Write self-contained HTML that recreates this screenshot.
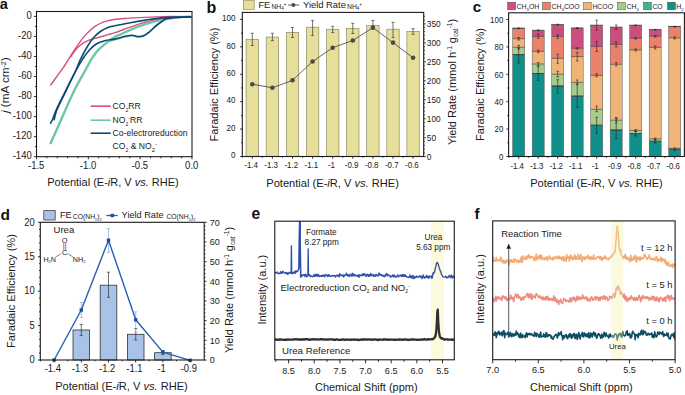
<!DOCTYPE html>
<html><head><meta charset="utf-8"><style>
html,body{margin:0;padding:0;background:#fff;}
svg{display:block;}
text{font-family:"Liberation Sans",sans-serif;}
</style></head><body>
<svg width="685" height="395" viewBox="0 0 685 395">
<defs>
<clipPath id="clipA"><rect x="36.5" y="11.5" width="155.5" height="145.2"/></clipPath>
<clipPath id="clipE"><rect x="274.8" y="221.2" width="179.5" height="138.6"/></clipPath>
<clipPath id="clipF"><rect x="492.7" y="220.9" width="182.4" height="138.8"/></clipPath>
</defs>
<rect width="685" height="395" fill="#fff"/>
<text x="-0.25" y="9" font-size="14.6" text-anchor="start" font-weight="bold" fill="#111" style="">a</text>
<rect x="36.5" y="11.5" width="155.5" height="145.2" fill="none" stroke="#1a1a1a" stroke-width="1.1"/>
<line x1="33.9" y1="16.4" x2="36.5" y2="16.4" stroke="#1a1a1a" stroke-width="0.9" />
<text transform="translate(31.7 18.9) scale(0.94 1)" x="0" y="0" font-size="10.1" text-anchor="end" fill="#1a1a1a">0</text>
<line x1="34.9" y1="26.42" x2="36.5" y2="26.42" stroke="#1a1a1a" stroke-width="0.9" />
<line x1="33.9" y1="36.44" x2="36.5" y2="36.44" stroke="#1a1a1a" stroke-width="0.9" />
<text transform="translate(31.7 38.94) scale(0.94 1)" x="0" y="0" font-size="10.1" text-anchor="end" fill="#1a1a1a">-20</text>
<line x1="34.9" y1="46.46" x2="36.5" y2="46.46" stroke="#1a1a1a" stroke-width="0.9" />
<line x1="33.9" y1="56.49" x2="36.5" y2="56.49" stroke="#1a1a1a" stroke-width="0.9" />
<text transform="translate(31.7 58.99) scale(0.94 1)" x="0" y="0" font-size="10.1" text-anchor="end" fill="#1a1a1a">-40</text>
<line x1="34.9" y1="66.51" x2="36.5" y2="66.51" stroke="#1a1a1a" stroke-width="0.9" />
<line x1="33.9" y1="76.53" x2="36.5" y2="76.53" stroke="#1a1a1a" stroke-width="0.9" />
<text transform="translate(31.7 79.03) scale(0.94 1)" x="0" y="0" font-size="10.1" text-anchor="end" fill="#1a1a1a">-60</text>
<line x1="34.9" y1="86.55" x2="36.5" y2="86.55" stroke="#1a1a1a" stroke-width="0.9" />
<line x1="33.9" y1="96.57" x2="36.5" y2="96.57" stroke="#1a1a1a" stroke-width="0.9" />
<text transform="translate(31.7 99.07) scale(0.94 1)" x="0" y="0" font-size="10.1" text-anchor="end" fill="#1a1a1a">-80</text>
<line x1="34.9" y1="106.59" x2="36.5" y2="106.59" stroke="#1a1a1a" stroke-width="0.9" />
<line x1="33.9" y1="116.61" x2="36.5" y2="116.61" stroke="#1a1a1a" stroke-width="0.9" />
<text transform="translate(31.7 119.11) scale(0.94 1)" x="0" y="0" font-size="10.1" text-anchor="end" fill="#1a1a1a">-100</text>
<line x1="34.9" y1="126.64" x2="36.5" y2="126.64" stroke="#1a1a1a" stroke-width="0.9" />
<line x1="33.9" y1="136.66" x2="36.5" y2="136.66" stroke="#1a1a1a" stroke-width="0.9" />
<text transform="translate(31.7 139.16) scale(0.94 1)" x="0" y="0" font-size="10.1" text-anchor="end" fill="#1a1a1a">-120</text>
<line x1="34.9" y1="146.68" x2="36.5" y2="146.68" stroke="#1a1a1a" stroke-width="0.9" />
<line x1="33.9" y1="156.7" x2="36.5" y2="156.7" stroke="#1a1a1a" stroke-width="0.9" />
<text transform="translate(31.7 159.2) scale(0.94 1)" x="0" y="0" font-size="10.1" text-anchor="end" fill="#1a1a1a">-140</text>
<line x1="36.5" y1="156.7" x2="36.5" y2="159.3" stroke="#1a1a1a" stroke-width="0.9" />
<text transform="translate(36.2 169.3) scale(0.94 1)" x="0" y="0" font-size="10.1" text-anchor="middle" fill="#1a1a1a">-1.5</text>
<line x1="46.87" y1="156.7" x2="46.87" y2="158.3" stroke="#1a1a1a" stroke-width="0.9" />
<line x1="57.23" y1="156.7" x2="57.23" y2="158.3" stroke="#1a1a1a" stroke-width="0.9" />
<line x1="67.6" y1="156.7" x2="67.6" y2="158.3" stroke="#1a1a1a" stroke-width="0.9" />
<line x1="77.97" y1="156.7" x2="77.97" y2="158.3" stroke="#1a1a1a" stroke-width="0.9" />
<line x1="88.33" y1="156.7" x2="88.33" y2="159.3" stroke="#1a1a1a" stroke-width="0.9" />
<text transform="translate(88.03 169.3) scale(0.94 1)" x="0" y="0" font-size="10.1" text-anchor="middle" fill="#1a1a1a">-1.0</text>
<line x1="98.7" y1="156.7" x2="98.7" y2="158.3" stroke="#1a1a1a" stroke-width="0.9" />
<line x1="109.07" y1="156.7" x2="109.07" y2="158.3" stroke="#1a1a1a" stroke-width="0.9" />
<line x1="119.43" y1="156.7" x2="119.43" y2="158.3" stroke="#1a1a1a" stroke-width="0.9" />
<line x1="129.8" y1="156.7" x2="129.8" y2="158.3" stroke="#1a1a1a" stroke-width="0.9" />
<line x1="140.17" y1="156.7" x2="140.17" y2="159.3" stroke="#1a1a1a" stroke-width="0.9" />
<text transform="translate(139.87 169.3) scale(0.94 1)" x="0" y="0" font-size="10.1" text-anchor="middle" fill="#1a1a1a">-0.5</text>
<line x1="150.53" y1="156.7" x2="150.53" y2="158.3" stroke="#1a1a1a" stroke-width="0.9" />
<line x1="160.9" y1="156.7" x2="160.9" y2="158.3" stroke="#1a1a1a" stroke-width="0.9" />
<line x1="171.27" y1="156.7" x2="171.27" y2="158.3" stroke="#1a1a1a" stroke-width="0.9" />
<line x1="181.63" y1="156.7" x2="181.63" y2="158.3" stroke="#1a1a1a" stroke-width="0.9" />
<line x1="192" y1="156.7" x2="192" y2="159.3" stroke="#1a1a1a" stroke-width="0.9" />
<text transform="translate(191.7 169.3) scale(0.94 1)" x="0" y="0" font-size="10.1" text-anchor="middle" fill="#1a1a1a">0.0</text>
<text x="113" y="186.1" font-size="11.0" text-anchor="middle" font-weight="normal" fill="#1a1a1a" style="">Potential (E-<tspan font-style="italic">i</tspan>R, V <tspan font-style="italic">vs.</tspan> RHE)</text>
<text x="9.4" y="85.2" font-size="11.7" text-anchor="middle" font-weight="normal" fill="#1a1a1a" transform="rotate(-90 9.4 85.2)" style=""><tspan font-style="italic">j</tspan> (mA cm<tspan dy="-3.8" font-size="7">-2</tspan><tspan dy="3.8">)</tspan></text>
<g clip-path="url(#clipA)">
<path d="M192,16.8 C189.88,16.85 183.95,16.65 179.3,17.1 C174.65,17.55 167.38,18.97 164.1,19.5 C160.82,20.03 162.72,19.52 159.6,20.3 C156.48,21.08 150.3,22.62 145.4,24.2 C140.5,25.78 134.43,28.05 130.2,29.8 C125.97,31.55 122.53,33.52 120,34.7 C117.47,35.88 117,35.75 115,36.9 C113,38.05 110.65,39.55 108,41.6 C105.35,43.65 101.27,47.15 99.1,49.2 C96.93,51.25 96.37,52.1 95,53.9 C93.63,55.7 92.48,57.32 90.9,60 C89.32,62.68 87.82,65.8 85.5,70 C83.18,74.2 79.25,80.98 77,85.2 C74.75,89.42 73.7,91.72 72,95.3 C70.3,98.88 68.6,102.68 66.8,106.7 C65,110.72 62.7,115.98 61.2,119.4 C59.7,122.82 59.57,123.23 57.8,127.2 C56.03,131.17 51.8,140.53 50.6,143.2" fill="none" stroke="#6dc6a4" stroke-width="2.4" stroke-linejoin="round" stroke-linecap="round" />
<path d="M166,18.9 C165.18,19.42 162.85,20.72 161.1,22 C159.35,23.28 157.45,24.9 155.5,26.6 C153.55,28.3 151.42,30.6 149.4,32.2 C147.38,33.8 145.25,35.38 143.4,36.2 C141.55,37.02 140.17,37.17 138.3,37.1 C136.43,37.03 134.4,35.85 132.2,35.8 C130,35.75 127.13,36.4 125.1,36.8 C123.07,37.2 122.02,37.63 120,38.2 C117.98,38.77 115,39.57 113,40.2 C111,40.83 108.83,41.7 108,42" fill="none" stroke="#6dc6a4" stroke-width="1.5" stroke-linejoin="round" stroke-linecap="round" />
<path d="M192,16.8 C187.5,16.77 173.67,16.47 165,16.6 C156.33,16.73 146.67,17.28 140,17.6 C133.33,17.92 129,18.23 125,18.5 C121,18.77 119.43,18.67 116,19.2 C112.57,19.73 107.9,20.5 104.4,21.7 C100.9,22.9 97.53,24.82 95,26.4 C92.47,27.98 91.15,29.37 89.2,31.2 C87.25,33.03 85.23,35.03 83.3,37.4 C81.37,39.77 79.4,42.8 77.6,45.4 C75.8,48 73.77,51.07 72.5,53 C71.23,54.93 71.25,55 70,57 C68.75,59 66.42,62.83 65,65 C63.58,67.17 63.17,67.67 61.5,70 C59.83,72.33 56.8,76.5 55,79 C53.2,81.5 51.42,84 50.7,85" fill="none" stroke="#d4507e" stroke-width="1.4" stroke-linejoin="round" stroke-linecap="round" />
<path d="M192,16.8 C189.17,16.83 180.23,16.7 175,17 C169.77,17.3 165.53,17.73 160.6,18.6 C155.67,19.47 150.47,20.77 145.4,22.2 C140.33,23.63 134.43,25.75 130.2,27.2 C125.97,28.65 122.53,30 120,30.9 C117.47,31.8 117,31.97 115,32.6 C113,33.23 111.28,33.73 108,34.7 C104.72,35.67 98.47,37.48 95.3,38.4 C92.13,39.32 91.53,39.07 89,40.2 C86.47,41.33 82.6,43.23 80.1,45.2 C77.6,47.17 75.6,50.03 74,52 C72.4,53.97 71.08,56.17 70.5,57" fill="none" stroke="#d4507e" stroke-width="1.4" stroke-linejoin="round" stroke-linecap="round" />
<path d="M192,16.8 C187.5,16.93 172.77,17.05 165,17.6 C157.23,18.15 151.2,19.25 145.4,20.1 C139.6,20.95 135.27,21.77 130.2,22.7 C125.13,23.63 118.7,24.92 115,25.7 C111.3,26.48 110.43,26.43 108,27.4 C105.57,28.37 102.93,29.65 100.4,31.5 C97.87,33.35 95.12,35.75 92.8,38.5 C90.48,41.25 88.62,44.42 86.5,48 C84.38,51.58 81.85,56.33 80.1,60 C78.35,63.67 77.83,66.02 76,70 C74.17,73.98 71.2,79.68 69.1,83.9 C67,88.12 65.3,91.5 63.4,95.3 C61.5,99.1 59.23,103.42 57.7,106.7 C56.17,109.98 55.05,112.88 54.2,115 C53.35,117.12 53.2,118.03 52.6,119.4 C52,120.77 50.93,122.57 50.6,123.2" fill="none" stroke="#0d4a72" stroke-width="1.6" stroke-linejoin="round" stroke-linecap="round" />
<path d="M192,16.8 C188.87,16.95 177.53,17.35 173.2,17.7 C168.87,18.05 168.02,18.18 166,18.9 C163.98,19.62 162.85,20.78 161.1,22 C159.35,23.22 157.45,24.57 155.5,26.2 C153.55,27.83 151.42,30.2 149.4,31.8 C147.38,33.4 145.25,35.02 143.4,35.8 C141.55,36.58 140.17,36.58 138.3,36.5 C136.43,36.42 134.4,35.33 132.2,35.3 C130,35.27 127.13,35.88 125.1,36.3 C123.07,36.72 122.02,37.28 120,37.8 C117.98,38.32 115.43,38.93 113,39.4 C110.57,39.87 108.13,39.87 105.4,40.6 C102.67,41.33 99.33,42.15 96.6,43.8 C93.87,45.45 91.43,47.8 89,50.5 C86.57,53.2 84.17,56.67 82,60 C79.83,63.33 78.08,66.58 76,70.5 C73.92,74.42 71.53,79.37 69.5,83.5 C67.47,87.63 65.68,91.38 63.8,95.3 C61.92,99.22 59.53,104.05 58.2,107 C56.87,109.95 56.47,110.9 55.8,113 C55.13,115.1 54.47,118.5 54.2,119.6" fill="none" stroke="#0d4a72" stroke-width="1.6" stroke-linejoin="round" stroke-linecap="round" />
</g>
<line x1="90.6" y1="106.2" x2="110.7" y2="106.2" stroke="#d4507e" stroke-width="1.6" />
<text x="112.6" y="109.4" font-size="8.6" text-anchor="start" font-weight="normal" fill="#1a1a1a" style="">CO<tspan dy="2.2" font-size="5">2</tspan><tspan dy="-2.2">RR</tspan></text>
<line x1="90.6" y1="120.2" x2="110.7" y2="120.2" stroke="#6dc6a4" stroke-width="1.6" />
<text x="112.6" y="123.4" font-size="8.6" text-anchor="start" font-weight="normal" fill="#1a1a1a" style="">NO<tspan dy="2.2" font-size="5">2</tspan><tspan dy="-5.5" font-size="5">-</tspan><tspan dy="3.3">RR</tspan></text>
<line x1="90.6" y1="133.2" x2="110.7" y2="133.2" stroke="#0d4a72" stroke-width="1.6" />
<text x="112.6" y="136.4" font-size="8.6" text-anchor="start" font-weight="normal" fill="#1a1a1a" style="">Co-electroreduction</text>
<text x="112.6" y="149.4" font-size="8.6" text-anchor="start" font-weight="normal" fill="#1a1a1a" style="">CO<tspan dy="2.2" font-size="5">2</tspan><tspan dy="-2.2"> &amp; NO</tspan><tspan dy="2.2" font-size="6">2</tspan><tspan dy="-5.5" font-size="6">-</tspan></text>
<text x="206.4" y="12.5" font-size="16" text-anchor="start" font-weight="bold" fill="#111" style="">b</text>
<rect x="246.1" y="39.3" width="12.4" height="117.2" fill="#e6df9b" stroke="#8f8b66" stroke-width="0.7"/>
<rect x="266.2" y="37.1" width="12.4" height="119.4" fill="#e6df9b" stroke="#8f8b66" stroke-width="0.7"/>
<rect x="286.3" y="32.4" width="12.4" height="124.1" fill="#e6df9b" stroke="#8f8b66" stroke-width="0.7"/>
<rect x="306.4" y="27.2" width="12.4" height="129.3" fill="#e6df9b" stroke="#8f8b66" stroke-width="0.7"/>
<rect x="326.5" y="29.3" width="12.4" height="127.2" fill="#e6df9b" stroke="#8f8b66" stroke-width="0.7"/>
<rect x="346.6" y="28.3" width="12.4" height="128.2" fill="#e6df9b" stroke="#8f8b66" stroke-width="0.7"/>
<rect x="366.7" y="25.4" width="12.4" height="131.1" fill="#e6df9b" stroke="#8f8b66" stroke-width="0.7"/>
<rect x="386.8" y="29.2" width="12.4" height="127.3" fill="#e6df9b" stroke="#8f8b66" stroke-width="0.7"/>
<rect x="406.9" y="31.6" width="12.4" height="124.9" fill="#e6df9b" stroke="#8f8b66" stroke-width="0.7"/>
<line x1="252.3" y1="33.3" x2="252.3" y2="45.5" stroke="#3a3a3a" stroke-width="0.7" />
<line x1="250.8" y1="33.3" x2="253.8" y2="33.3" stroke="#3a3a3a" stroke-width="0.7" />
<line x1="250.8" y1="45.5" x2="253.8" y2="45.5" stroke="#3a3a3a" stroke-width="0.7" />
<line x1="272.4" y1="33.3" x2="272.4" y2="40.6" stroke="#3a3a3a" stroke-width="0.7" />
<line x1="270.9" y1="33.3" x2="273.9" y2="33.3" stroke="#3a3a3a" stroke-width="0.7" />
<line x1="270.9" y1="40.6" x2="273.9" y2="40.6" stroke="#3a3a3a" stroke-width="0.7" />
<line x1="292.5" y1="27.5" x2="292.5" y2="37.5" stroke="#3a3a3a" stroke-width="0.7" />
<line x1="291" y1="27.5" x2="294" y2="27.5" stroke="#3a3a3a" stroke-width="0.7" />
<line x1="291" y1="37.5" x2="294" y2="37.5" stroke="#3a3a3a" stroke-width="0.7" />
<line x1="312.6" y1="20.4" x2="312.6" y2="35.4" stroke="#3a3a3a" stroke-width="0.7" />
<line x1="311.1" y1="20.4" x2="314.1" y2="20.4" stroke="#3a3a3a" stroke-width="0.7" />
<line x1="311.1" y1="35.4" x2="314.1" y2="35.4" stroke="#3a3a3a" stroke-width="0.7" />
<line x1="332.7" y1="26.3" x2="332.7" y2="32.5" stroke="#3a3a3a" stroke-width="0.7" />
<line x1="331.2" y1="26.3" x2="334.2" y2="26.3" stroke="#3a3a3a" stroke-width="0.7" />
<line x1="331.2" y1="32.5" x2="334.2" y2="32.5" stroke="#3a3a3a" stroke-width="0.7" />
<line x1="352.8" y1="23.3" x2="352.8" y2="33.5" stroke="#3a3a3a" stroke-width="0.7" />
<line x1="351.3" y1="23.3" x2="354.3" y2="23.3" stroke="#3a3a3a" stroke-width="0.7" />
<line x1="351.3" y1="33.5" x2="354.3" y2="33.5" stroke="#3a3a3a" stroke-width="0.7" />
<line x1="372.9" y1="20.4" x2="372.9" y2="29.2" stroke="#3a3a3a" stroke-width="0.7" />
<line x1="371.4" y1="20.4" x2="374.4" y2="20.4" stroke="#3a3a3a" stroke-width="0.7" />
<line x1="371.4" y1="29.2" x2="374.4" y2="29.2" stroke="#3a3a3a" stroke-width="0.7" />
<line x1="393" y1="22.3" x2="393" y2="37.6" stroke="#3a3a3a" stroke-width="0.7" />
<line x1="391.5" y1="22.3" x2="394.5" y2="22.3" stroke="#3a3a3a" stroke-width="0.7" />
<line x1="391.5" y1="37.6" x2="394.5" y2="37.6" stroke="#3a3a3a" stroke-width="0.7" />
<line x1="413.1" y1="28.6" x2="413.1" y2="34.3" stroke="#3a3a3a" stroke-width="0.7" />
<line x1="411.6" y1="28.6" x2="414.6" y2="28.6" stroke="#3a3a3a" stroke-width="0.7" />
<line x1="411.6" y1="34.3" x2="414.6" y2="34.3" stroke="#3a3a3a" stroke-width="0.7" />
<polyline points="252.3,84.2 272.4,87.8 292.5,80.3 312.6,61.5 332.7,47.7 352.8,40.5 372.9,27.6 393,42.6 413.1,57.8" fill="none" stroke="#505050" stroke-width="0.9" stroke-linejoin="round" stroke-linecap="round" />
<circle cx="252.3" cy="84.2" r="2.3" fill="#4a4a4a"/>
<circle cx="272.4" cy="87.8" r="2.3" fill="#4a4a4a"/>
<circle cx="292.5" cy="80.3" r="2.3" fill="#4a4a4a"/>
<circle cx="312.6" cy="61.5" r="2.3" fill="#4a4a4a"/>
<circle cx="332.7" cy="47.7" r="2.3" fill="#4a4a4a"/>
<circle cx="352.8" cy="40.5" r="2.3" fill="#4a4a4a"/>
<circle cx="372.9" cy="27.6" r="2.3" fill="#4a4a4a"/>
<circle cx="393" cy="42.6" r="2.3" fill="#4a4a4a"/>
<circle cx="413.1" cy="57.8" r="2.3" fill="#4a4a4a"/>
<rect x="242.3" y="12.4" width="181.39999999999998" height="144.1" fill="none" stroke="#1a1a1a" stroke-width="1.1"/>
<line x1="240.1" y1="156.5" x2="242.3" y2="156.5" stroke="#1a1a1a" stroke-width="0.9" />
<text transform="translate(235.4 158.2) scale(0.92 1)" x="0" y="0" font-size="8.8" text-anchor="end" fill="#1a1a1a">0</text>
<line x1="241" y1="142.79" x2="242.3" y2="142.79" stroke="#1a1a1a" stroke-width="0.9" />
<line x1="240.1" y1="129.08" x2="242.3" y2="129.08" stroke="#1a1a1a" stroke-width="0.9" />
<text transform="translate(235.4 130.78) scale(0.92 1)" x="0" y="0" font-size="8.8" text-anchor="end" fill="#1a1a1a">20</text>
<line x1="241" y1="115.37" x2="242.3" y2="115.37" stroke="#1a1a1a" stroke-width="0.9" />
<line x1="240.1" y1="101.66" x2="242.3" y2="101.66" stroke="#1a1a1a" stroke-width="0.9" />
<text transform="translate(235.4 103.36) scale(0.92 1)" x="0" y="0" font-size="8.8" text-anchor="end" fill="#1a1a1a">40</text>
<line x1="241" y1="87.95" x2="242.3" y2="87.95" stroke="#1a1a1a" stroke-width="0.9" />
<line x1="240.1" y1="74.24" x2="242.3" y2="74.24" stroke="#1a1a1a" stroke-width="0.9" />
<text transform="translate(235.4 75.94) scale(0.92 1)" x="0" y="0" font-size="8.8" text-anchor="end" fill="#1a1a1a">60</text>
<line x1="241" y1="60.53" x2="242.3" y2="60.53" stroke="#1a1a1a" stroke-width="0.9" />
<line x1="240.1" y1="46.82" x2="242.3" y2="46.82" stroke="#1a1a1a" stroke-width="0.9" />
<text transform="translate(235.4 48.52) scale(0.92 1)" x="0" y="0" font-size="8.8" text-anchor="end" fill="#1a1a1a">80</text>
<line x1="241" y1="33.11" x2="242.3" y2="33.11" stroke="#1a1a1a" stroke-width="0.9" />
<line x1="240.1" y1="19.4" x2="242.3" y2="19.4" stroke="#1a1a1a" stroke-width="0.9" />
<text transform="translate(235.4 21.1) scale(0.92 1)" x="0" y="0" font-size="8.8" text-anchor="end" fill="#1a1a1a">100</text>
<line x1="423.7" y1="156.7" x2="425.9" y2="156.7" stroke="#1a1a1a" stroke-width="0.8" />
<text transform="translate(426.8 159.7) scale(0.93 1)" x="0" y="0" font-size="9.0" text-anchor="start" fill="#1a1a1a">0</text>
<line x1="423.7" y1="152.91" x2="424.9" y2="152.91" stroke="#1a1a1a" stroke-width="0.8" />
<line x1="423.7" y1="149.11" x2="424.9" y2="149.11" stroke="#1a1a1a" stroke-width="0.8" />
<line x1="423.7" y1="145.32" x2="424.9" y2="145.32" stroke="#1a1a1a" stroke-width="0.8" />
<line x1="423.7" y1="141.52" x2="424.9" y2="141.52" stroke="#1a1a1a" stroke-width="0.8" />
<line x1="423.7" y1="137.73" x2="425.9" y2="137.73" stroke="#1a1a1a" stroke-width="0.8" />
<text transform="translate(426.8 140.73) scale(0.93 1)" x="0" y="0" font-size="9.0" text-anchor="start" fill="#1a1a1a">50</text>
<line x1="423.7" y1="133.93" x2="424.9" y2="133.93" stroke="#1a1a1a" stroke-width="0.8" />
<line x1="423.7" y1="130.14" x2="424.9" y2="130.14" stroke="#1a1a1a" stroke-width="0.8" />
<line x1="423.7" y1="126.35" x2="424.9" y2="126.35" stroke="#1a1a1a" stroke-width="0.8" />
<line x1="423.7" y1="122.55" x2="424.9" y2="122.55" stroke="#1a1a1a" stroke-width="0.8" />
<line x1="423.7" y1="118.76" x2="425.9" y2="118.76" stroke="#1a1a1a" stroke-width="0.8" />
<text transform="translate(426.8 121.76) scale(0.93 1)" x="0" y="0" font-size="9.0" text-anchor="start" fill="#1a1a1a">100</text>
<line x1="423.7" y1="114.96" x2="424.9" y2="114.96" stroke="#1a1a1a" stroke-width="0.8" />
<line x1="423.7" y1="111.17" x2="424.9" y2="111.17" stroke="#1a1a1a" stroke-width="0.8" />
<line x1="423.7" y1="107.37" x2="424.9" y2="107.37" stroke="#1a1a1a" stroke-width="0.8" />
<line x1="423.7" y1="103.58" x2="424.9" y2="103.58" stroke="#1a1a1a" stroke-width="0.8" />
<line x1="423.7" y1="99.79" x2="425.9" y2="99.79" stroke="#1a1a1a" stroke-width="0.8" />
<text transform="translate(426.8 102.79) scale(0.93 1)" x="0" y="0" font-size="9.0" text-anchor="start" fill="#1a1a1a">150</text>
<line x1="423.7" y1="95.99" x2="424.9" y2="95.99" stroke="#1a1a1a" stroke-width="0.8" />
<line x1="423.7" y1="92.2" x2="424.9" y2="92.2" stroke="#1a1a1a" stroke-width="0.8" />
<line x1="423.7" y1="88.4" x2="424.9" y2="88.4" stroke="#1a1a1a" stroke-width="0.8" />
<line x1="423.7" y1="84.61" x2="424.9" y2="84.61" stroke="#1a1a1a" stroke-width="0.8" />
<line x1="423.7" y1="80.81" x2="425.9" y2="80.81" stroke="#1a1a1a" stroke-width="0.8" />
<text transform="translate(426.8 83.81) scale(0.93 1)" x="0" y="0" font-size="9.0" text-anchor="start" fill="#1a1a1a">200</text>
<line x1="423.7" y1="77.02" x2="424.9" y2="77.02" stroke="#1a1a1a" stroke-width="0.8" />
<line x1="423.7" y1="73.23" x2="424.9" y2="73.23" stroke="#1a1a1a" stroke-width="0.8" />
<line x1="423.7" y1="69.43" x2="424.9" y2="69.43" stroke="#1a1a1a" stroke-width="0.8" />
<line x1="423.7" y1="65.64" x2="424.9" y2="65.64" stroke="#1a1a1a" stroke-width="0.8" />
<line x1="423.7" y1="61.84" x2="425.9" y2="61.84" stroke="#1a1a1a" stroke-width="0.8" />
<text transform="translate(426.8 64.84) scale(0.93 1)" x="0" y="0" font-size="9.0" text-anchor="start" fill="#1a1a1a">250</text>
<line x1="423.7" y1="58.05" x2="424.9" y2="58.05" stroke="#1a1a1a" stroke-width="0.8" />
<line x1="423.7" y1="54.25" x2="424.9" y2="54.25" stroke="#1a1a1a" stroke-width="0.8" />
<line x1="423.7" y1="50.46" x2="424.9" y2="50.46" stroke="#1a1a1a" stroke-width="0.8" />
<line x1="423.7" y1="46.67" x2="424.9" y2="46.67" stroke="#1a1a1a" stroke-width="0.8" />
<line x1="423.7" y1="42.87" x2="425.9" y2="42.87" stroke="#1a1a1a" stroke-width="0.8" />
<text transform="translate(426.8 45.87) scale(0.93 1)" x="0" y="0" font-size="9.0" text-anchor="start" fill="#1a1a1a">300</text>
<line x1="423.7" y1="39.08" x2="424.9" y2="39.08" stroke="#1a1a1a" stroke-width="0.8" />
<line x1="423.7" y1="35.28" x2="424.9" y2="35.28" stroke="#1a1a1a" stroke-width="0.8" />
<line x1="423.7" y1="31.49" x2="424.9" y2="31.49" stroke="#1a1a1a" stroke-width="0.8" />
<line x1="423.7" y1="27.69" x2="424.9" y2="27.69" stroke="#1a1a1a" stroke-width="0.8" />
<line x1="423.7" y1="23.9" x2="425.9" y2="23.9" stroke="#1a1a1a" stroke-width="0.8" />
<text transform="translate(426.8 26.9) scale(0.93 1)" x="0" y="0" font-size="9.0" text-anchor="start" fill="#1a1a1a">350</text>
<line x1="423.7" y1="20.11" x2="424.9" y2="20.11" stroke="#1a1a1a" stroke-width="0.8" />
<line x1="423.7" y1="16.31" x2="424.9" y2="16.31" stroke="#1a1a1a" stroke-width="0.8" />
<line x1="252.3" y1="156.5" x2="252.3" y2="158.7" stroke="#1a1a1a" stroke-width="0.9" />
<line x1="262.35" y1="156.5" x2="262.35" y2="157.8" stroke="#1a1a1a" stroke-width="0.9" />
<text transform="translate(251.1 167.9) scale(0.9 1)" x="0" y="0" font-size="8.8" text-anchor="middle" fill="#1a1a1a">-1.4</text>
<line x1="272.4" y1="156.5" x2="272.4" y2="158.7" stroke="#1a1a1a" stroke-width="0.9" />
<line x1="282.45" y1="156.5" x2="282.45" y2="157.8" stroke="#1a1a1a" stroke-width="0.9" />
<text transform="translate(271.2 167.9) scale(0.9 1)" x="0" y="0" font-size="8.8" text-anchor="middle" fill="#1a1a1a">-1.3</text>
<line x1="292.5" y1="156.5" x2="292.5" y2="158.7" stroke="#1a1a1a" stroke-width="0.9" />
<line x1="302.55" y1="156.5" x2="302.55" y2="157.8" stroke="#1a1a1a" stroke-width="0.9" />
<text transform="translate(291.3 167.9) scale(0.9 1)" x="0" y="0" font-size="8.8" text-anchor="middle" fill="#1a1a1a">-1.2</text>
<line x1="312.6" y1="156.5" x2="312.6" y2="158.7" stroke="#1a1a1a" stroke-width="0.9" />
<line x1="322.65" y1="156.5" x2="322.65" y2="157.8" stroke="#1a1a1a" stroke-width="0.9" />
<text transform="translate(311.4 167.9) scale(0.9 1)" x="0" y="0" font-size="8.8" text-anchor="middle" fill="#1a1a1a">-1.1</text>
<line x1="332.7" y1="156.5" x2="332.7" y2="158.7" stroke="#1a1a1a" stroke-width="0.9" />
<line x1="342.75" y1="156.5" x2="342.75" y2="157.8" stroke="#1a1a1a" stroke-width="0.9" />
<text transform="translate(331.5 167.9) scale(0.9 1)" x="0" y="0" font-size="8.8" text-anchor="middle" fill="#1a1a1a">-1</text>
<line x1="352.8" y1="156.5" x2="352.8" y2="158.7" stroke="#1a1a1a" stroke-width="0.9" />
<line x1="362.85" y1="156.5" x2="362.85" y2="157.8" stroke="#1a1a1a" stroke-width="0.9" />
<text transform="translate(351.6 167.9) scale(0.9 1)" x="0" y="0" font-size="8.8" text-anchor="middle" fill="#1a1a1a">-0.9</text>
<line x1="372.9" y1="156.5" x2="372.9" y2="158.7" stroke="#1a1a1a" stroke-width="0.9" />
<line x1="382.95" y1="156.5" x2="382.95" y2="157.8" stroke="#1a1a1a" stroke-width="0.9" />
<text transform="translate(371.7 167.9) scale(0.9 1)" x="0" y="0" font-size="8.8" text-anchor="middle" fill="#1a1a1a">-0.8</text>
<line x1="393" y1="156.5" x2="393" y2="158.7" stroke="#1a1a1a" stroke-width="0.9" />
<line x1="403.05" y1="156.5" x2="403.05" y2="157.8" stroke="#1a1a1a" stroke-width="0.9" />
<text transform="translate(391.8 167.9) scale(0.9 1)" x="0" y="0" font-size="8.8" text-anchor="middle" fill="#1a1a1a">-0.7</text>
<line x1="413.1" y1="156.5" x2="413.1" y2="158.7" stroke="#1a1a1a" stroke-width="0.9" />
<text transform="translate(411.9 167.9) scale(0.9 1)" x="0" y="0" font-size="8.8" text-anchor="middle" fill="#1a1a1a">-0.6</text>
<line x1="242.25" y1="156.5" x2="242.25" y2="157.8" stroke="#1a1a1a" stroke-width="0.9" />
<text x="332.6" y="186.8" font-size="11.1" text-anchor="middle" font-weight="normal" fill="#1a1a1a" style="">Potential (E-<tspan font-style="italic">i</tspan>R, V <tspan font-style="italic">vs.</tspan> RHE)</text>
<text x="217.6" y="84.5" font-size="11.1" text-anchor="middle" font-weight="normal" fill="#1a1a1a" transform="rotate(-90 217.6 84.5)" style="">Faradaic Efficiency (%)</text>
<text x="455.8" y="82" font-size="11.0" text-anchor="middle" font-weight="normal" fill="#1a1a1a" transform="rotate(-90 455.8 82)" style="">Yield Rate (mmol h<tspan dy="-3.5" font-size="6.5">-1</tspan><tspan dy="3.5"> g</tspan><tspan dy="2.5" font-size="6.5">cat</tspan><tspan dy="-6" font-size="6.5">-1</tspan><tspan dy="3.5">)</tspan></text>
<rect x="243.4" y="0.2" width="10.8" height="9.3" fill="#e6df9b" stroke="#8f8b66" stroke-width="0.7"/>
<text x="258.4" y="7.9" font-size="9.4" text-anchor="start" font-weight="normal" fill="#1a1a1a" style="">FE</text>
<text x="271.4" y="8.6" font-size="6.8" text-anchor="start" font-weight="normal" fill="#1a1a1a" style="">NH<tspan dy="1.6" font-size="4.5">4</tspan><tspan dy="-4.5" font-size="4.5">+</tspan></text>
<line x1="288" y1="5" x2="299.1" y2="5" stroke="#505050" stroke-width="0.9" />
<circle cx="293.4" cy="5" r="2" fill="#4a4a4a"/>
<text x="303" y="7.9" font-size="9.4" text-anchor="start" font-weight="normal" fill="#1a1a1a" style="">Yield Rate</text>
<text x="347" y="8.6" font-size="6.8" text-anchor="start" font-weight="normal" fill="#1a1a1a" style="">NH<tspan dy="1.6" font-size="4.5">4</tspan><tspan dy="-4.5" font-size="4.5">+</tspan></text>
<text x="472.8" y="12" font-size="15.2" text-anchor="start" font-weight="bold" fill="#111" style="">c</text>
<rect x="512.7" y="54.6" width="12" height="101.9" fill="#10908b" stroke="none" stroke-width="0.6"/>
<rect x="512.7" y="47.3" width="12" height="7.3" fill="#a6cb8c" stroke="none" stroke-width="0.6"/>
<rect x="512.7" y="38.7" width="12" height="8.6" fill="#f0b479" stroke="none" stroke-width="0.6"/>
<rect x="512.7" y="28.4" width="12" height="10.3" fill="#e9816b" stroke="none" stroke-width="0.6"/>
<rect x="512.7" y="28.2" width="12" height="0.2" fill="#ca4f7f" stroke="none" stroke-width="0.6"/>
<line x1="512.7" y1="54.6" x2="524.7" y2="54.6" stroke="#3a2a2a" stroke-width="0.6" />
<line x1="512.7" y1="54.6" x2="524.7" y2="54.6" stroke="#3a2a2a" stroke-width="0.6" />
<line x1="512.7" y1="47.3" x2="524.7" y2="47.3" stroke="#3a2a2a" stroke-width="0.6" />
<line x1="512.7" y1="38.7" x2="524.7" y2="38.7" stroke="#3a2a2a" stroke-width="0.6" />
<line x1="512.7" y1="28.4" x2="524.7" y2="28.4" stroke="#3a2a2a" stroke-width="0.6" />
<line x1="512.7" y1="28.2" x2="524.7" y2="28.2" stroke="#3a2a2a" stroke-width="0.6" />
<rect x="512.7" y="28.2" width="12" height="128.3" fill="none" stroke="#555" stroke-width="0.5"/>
<rect x="532.2" y="73.5" width="12" height="83" fill="#10908b" stroke="none" stroke-width="0.6"/>
<rect x="532.2" y="64" width="12" height="9.5" fill="#a6cb8c" stroke="none" stroke-width="0.6"/>
<rect x="532.2" y="51.4" width="12" height="12.6" fill="#f0b479" stroke="none" stroke-width="0.6"/>
<rect x="532.2" y="36.4" width="12" height="15" fill="#e9816b" stroke="none" stroke-width="0.6"/>
<rect x="532.2" y="30.3" width="12" height="6.1" fill="#ca4f7f" stroke="none" stroke-width="0.6"/>
<line x1="532.2" y1="73.5" x2="544.2" y2="73.5" stroke="#3a2a2a" stroke-width="0.6" />
<line x1="532.2" y1="73.5" x2="544.2" y2="73.5" stroke="#3a2a2a" stroke-width="0.6" />
<line x1="532.2" y1="64" x2="544.2" y2="64" stroke="#3a2a2a" stroke-width="0.6" />
<line x1="532.2" y1="51.4" x2="544.2" y2="51.4" stroke="#3a2a2a" stroke-width="0.6" />
<line x1="532.2" y1="36.4" x2="544.2" y2="36.4" stroke="#3a2a2a" stroke-width="0.6" />
<line x1="532.2" y1="30.3" x2="544.2" y2="30.3" stroke="#3a2a2a" stroke-width="0.6" />
<rect x="532.2" y="30.3" width="12" height="126.2" fill="none" stroke="#555" stroke-width="0.5"/>
<rect x="551.7" y="86" width="12" height="70.5" fill="#10908b" stroke="none" stroke-width="0.6"/>
<rect x="551.7" y="74.2" width="12" height="11.8" fill="#a6cb8c" stroke="none" stroke-width="0.6"/>
<rect x="551.7" y="58.3" width="12" height="15.9" fill="#f0b479" stroke="none" stroke-width="0.6"/>
<rect x="551.7" y="36.4" width="12" height="21.9" fill="#e9816b" stroke="none" stroke-width="0.6"/>
<rect x="551.7" y="24.6" width="12" height="11.8" fill="#ca4f7f" stroke="none" stroke-width="0.6"/>
<line x1="551.7" y1="86" x2="563.7" y2="86" stroke="#3a2a2a" stroke-width="0.6" />
<line x1="551.7" y1="86" x2="563.7" y2="86" stroke="#3a2a2a" stroke-width="0.6" />
<line x1="551.7" y1="74.2" x2="563.7" y2="74.2" stroke="#3a2a2a" stroke-width="0.6" />
<line x1="551.7" y1="58.3" x2="563.7" y2="58.3" stroke="#3a2a2a" stroke-width="0.6" />
<line x1="551.7" y1="36.4" x2="563.7" y2="36.4" stroke="#3a2a2a" stroke-width="0.6" />
<line x1="551.7" y1="24.6" x2="563.7" y2="24.6" stroke="#3a2a2a" stroke-width="0.6" />
<rect x="551.7" y="24.6" width="12" height="131.9" fill="none" stroke="#555" stroke-width="0.5"/>
<rect x="571.2" y="96.1" width="12" height="60.4" fill="#10908b" stroke="none" stroke-width="0.6"/>
<rect x="571.2" y="82.4" width="12" height="13.7" fill="#a6cb8c" stroke="none" stroke-width="0.6"/>
<rect x="571.2" y="56.6" width="12" height="25.8" fill="#f0b479" stroke="none" stroke-width="0.6"/>
<rect x="571.2" y="48.3" width="12" height="8.3" fill="#e9816b" stroke="none" stroke-width="0.6"/>
<rect x="571.2" y="28" width="12" height="20.3" fill="#ca4f7f" stroke="none" stroke-width="0.6"/>
<line x1="571.2" y1="96.1" x2="583.2" y2="96.1" stroke="#3a2a2a" stroke-width="0.6" />
<line x1="571.2" y1="96.1" x2="583.2" y2="96.1" stroke="#3a2a2a" stroke-width="0.6" />
<line x1="571.2" y1="82.4" x2="583.2" y2="82.4" stroke="#3a2a2a" stroke-width="0.6" />
<line x1="571.2" y1="56.6" x2="583.2" y2="56.6" stroke="#3a2a2a" stroke-width="0.6" />
<line x1="571.2" y1="48.3" x2="583.2" y2="48.3" stroke="#3a2a2a" stroke-width="0.6" />
<line x1="571.2" y1="28" x2="583.2" y2="28" stroke="#3a2a2a" stroke-width="0.6" />
<rect x="571.2" y="28" width="12" height="128.5" fill="none" stroke="#555" stroke-width="0.5"/>
<rect x="590.7" y="125.2" width="12" height="31.3" fill="#10908b" stroke="none" stroke-width="0.6"/>
<rect x="590.7" y="109.3" width="12" height="15.9" fill="#a6cb8c" stroke="none" stroke-width="0.6"/>
<rect x="590.7" y="75.4" width="12" height="33.9" fill="#f0b479" stroke="none" stroke-width="0.6"/>
<rect x="590.7" y="46.4" width="12" height="29" fill="#e9816b" stroke="none" stroke-width="0.6"/>
<rect x="590.7" y="25.2" width="12" height="21.2" fill="#ca4f7f" stroke="none" stroke-width="0.6"/>
<line x1="590.7" y1="125.2" x2="602.7" y2="125.2" stroke="#3a2a2a" stroke-width="0.6" />
<line x1="590.7" y1="125.2" x2="602.7" y2="125.2" stroke="#3a2a2a" stroke-width="0.6" />
<line x1="590.7" y1="109.3" x2="602.7" y2="109.3" stroke="#3a2a2a" stroke-width="0.6" />
<line x1="590.7" y1="75.4" x2="602.7" y2="75.4" stroke="#3a2a2a" stroke-width="0.6" />
<line x1="590.7" y1="46.4" x2="602.7" y2="46.4" stroke="#3a2a2a" stroke-width="0.6" />
<line x1="590.7" y1="25.2" x2="602.7" y2="25.2" stroke="#3a2a2a" stroke-width="0.6" />
<rect x="590.7" y="25.2" width="12" height="131.3" fill="none" stroke="#555" stroke-width="0.5"/>
<rect x="610.2" y="130" width="12" height="26.5" fill="#10908b" stroke="none" stroke-width="0.6"/>
<rect x="610.2" y="120.2" width="12" height="9.8" fill="#a6cb8c" stroke="none" stroke-width="0.6"/>
<rect x="610.2" y="64.3" width="12" height="55.9" fill="#f0b479" stroke="none" stroke-width="0.6"/>
<rect x="610.2" y="44.4" width="12" height="19.9" fill="#e9816b" stroke="none" stroke-width="0.6"/>
<rect x="610.2" y="27.2" width="12" height="17.2" fill="#ca4f7f" stroke="none" stroke-width="0.6"/>
<line x1="610.2" y1="130" x2="622.2" y2="130" stroke="#3a2a2a" stroke-width="0.6" />
<line x1="610.2" y1="130" x2="622.2" y2="130" stroke="#3a2a2a" stroke-width="0.6" />
<line x1="610.2" y1="120.2" x2="622.2" y2="120.2" stroke="#3a2a2a" stroke-width="0.6" />
<line x1="610.2" y1="64.3" x2="622.2" y2="64.3" stroke="#3a2a2a" stroke-width="0.6" />
<line x1="610.2" y1="44.4" x2="622.2" y2="44.4" stroke="#3a2a2a" stroke-width="0.6" />
<line x1="610.2" y1="27.2" x2="622.2" y2="27.2" stroke="#3a2a2a" stroke-width="0.6" />
<rect x="610.2" y="27.2" width="12" height="129.3" fill="none" stroke="#555" stroke-width="0.5"/>
<rect x="629.7" y="133.6" width="12" height="22.9" fill="#10908b" stroke="none" stroke-width="0.6"/>
<rect x="629.7" y="130.5" width="12" height="3.1" fill="#a6cb8c" stroke="none" stroke-width="0.6"/>
<rect x="629.7" y="49.9" width="12" height="80.6" fill="#f0b479" stroke="none" stroke-width="0.6"/>
<rect x="629.7" y="38.3" width="12" height="11.6" fill="#e9816b" stroke="none" stroke-width="0.6"/>
<rect x="629.7" y="25.2" width="12" height="13.1" fill="#ca4f7f" stroke="none" stroke-width="0.6"/>
<line x1="629.7" y1="133.6" x2="641.7" y2="133.6" stroke="#3a2a2a" stroke-width="0.6" />
<line x1="629.7" y1="133.6" x2="641.7" y2="133.6" stroke="#3a2a2a" stroke-width="0.6" />
<line x1="629.7" y1="130.5" x2="641.7" y2="130.5" stroke="#3a2a2a" stroke-width="0.6" />
<line x1="629.7" y1="49.9" x2="641.7" y2="49.9" stroke="#3a2a2a" stroke-width="0.6" />
<line x1="629.7" y1="38.3" x2="641.7" y2="38.3" stroke="#3a2a2a" stroke-width="0.6" />
<line x1="629.7" y1="25.2" x2="641.7" y2="25.2" stroke="#3a2a2a" stroke-width="0.6" />
<rect x="629.7" y="25.2" width="12" height="131.3" fill="none" stroke="#555" stroke-width="0.5"/>
<rect x="649.2" y="141.3" width="12" height="15.2" fill="#10908b" stroke="none" stroke-width="0.6"/>
<rect x="649.2" y="138.9" width="12" height="2.4" fill="#a6cb8c" stroke="none" stroke-width="0.6"/>
<rect x="649.2" y="47.4" width="12" height="91.5" fill="#f0b479" stroke="none" stroke-width="0.6"/>
<rect x="649.2" y="36.3" width="12" height="11.1" fill="#e9816b" stroke="none" stroke-width="0.6"/>
<rect x="649.2" y="29.6" width="12" height="6.7" fill="#ca4f7f" stroke="none" stroke-width="0.6"/>
<line x1="649.2" y1="141.3" x2="661.2" y2="141.3" stroke="#3a2a2a" stroke-width="0.6" />
<line x1="649.2" y1="141.3" x2="661.2" y2="141.3" stroke="#3a2a2a" stroke-width="0.6" />
<line x1="649.2" y1="138.9" x2="661.2" y2="138.9" stroke="#3a2a2a" stroke-width="0.6" />
<line x1="649.2" y1="47.4" x2="661.2" y2="47.4" stroke="#3a2a2a" stroke-width="0.6" />
<line x1="649.2" y1="36.3" x2="661.2" y2="36.3" stroke="#3a2a2a" stroke-width="0.6" />
<line x1="649.2" y1="29.6" x2="661.2" y2="29.6" stroke="#3a2a2a" stroke-width="0.6" />
<rect x="649.2" y="29.6" width="12" height="126.9" fill="none" stroke="#555" stroke-width="0.5"/>
<rect x="668.7" y="149.3" width="12" height="7.2" fill="#10908b" stroke="none" stroke-width="0.6"/>
<rect x="668.7" y="148.3" width="12" height="1" fill="#a6cb8c" stroke="none" stroke-width="0.6"/>
<rect x="668.7" y="37.9" width="12" height="110.4" fill="#f0b479" stroke="none" stroke-width="0.6"/>
<rect x="668.7" y="26.6" width="12" height="11.3" fill="#e9816b" stroke="none" stroke-width="0.6"/>
<rect x="668.7" y="26.4" width="12" height="0.2" fill="#ca4f7f" stroke="none" stroke-width="0.6"/>
<line x1="668.7" y1="149.3" x2="680.7" y2="149.3" stroke="#3a2a2a" stroke-width="0.6" />
<line x1="668.7" y1="149.3" x2="680.7" y2="149.3" stroke="#3a2a2a" stroke-width="0.6" />
<line x1="668.7" y1="148.3" x2="680.7" y2="148.3" stroke="#3a2a2a" stroke-width="0.6" />
<line x1="668.7" y1="37.9" x2="680.7" y2="37.9" stroke="#3a2a2a" stroke-width="0.6" />
<line x1="668.7" y1="26.6" x2="680.7" y2="26.6" stroke="#3a2a2a" stroke-width="0.6" />
<line x1="668.7" y1="26.4" x2="680.7" y2="26.4" stroke="#3a2a2a" stroke-width="0.6" />
<rect x="668.7" y="26.4" width="12" height="130.1" fill="none" stroke="#555" stroke-width="0.5"/>
<line x1="518.7" y1="47.8" x2="518.7" y2="62.8" stroke="#222" stroke-width="0.6" />
<line x1="517.4" y1="47.8" x2="520" y2="47.8" stroke="#222" stroke-width="0.6" />
<line x1="517.4" y1="62.8" x2="520" y2="62.8" stroke="#222" stroke-width="0.6" />
<line x1="518.7" y1="45.5" x2="518.7" y2="49" stroke="#222" stroke-width="0.6" />
<line x1="517.4" y1="45.5" x2="520" y2="45.5" stroke="#222" stroke-width="0.6" />
<line x1="517.4" y1="49" x2="520" y2="49" stroke="#222" stroke-width="0.6" />
<line x1="518.7" y1="37.5" x2="518.7" y2="40" stroke="#222" stroke-width="0.6" />
<line x1="517.4" y1="37.5" x2="520" y2="37.5" stroke="#222" stroke-width="0.6" />
<line x1="517.4" y1="40" x2="520" y2="40" stroke="#222" stroke-width="0.6" />
<line x1="518.7" y1="28" x2="518.7" y2="28.8" stroke="#222" stroke-width="0.6" />
<line x1="517.4" y1="28" x2="520" y2="28" stroke="#222" stroke-width="0.6" />
<line x1="517.4" y1="28.8" x2="520" y2="28.8" stroke="#222" stroke-width="0.6" />
<line x1="538.2" y1="66.7" x2="538.2" y2="80.4" stroke="#222" stroke-width="0.6" />
<line x1="536.9" y1="66.7" x2="539.5" y2="66.7" stroke="#222" stroke-width="0.6" />
<line x1="536.9" y1="80.4" x2="539.5" y2="80.4" stroke="#222" stroke-width="0.6" />
<line x1="538.2" y1="62.5" x2="538.2" y2="65.5" stroke="#222" stroke-width="0.6" />
<line x1="536.9" y1="62.5" x2="539.5" y2="62.5" stroke="#222" stroke-width="0.6" />
<line x1="536.9" y1="65.5" x2="539.5" y2="65.5" stroke="#222" stroke-width="0.6" />
<line x1="538.2" y1="50.2" x2="538.2" y2="52.6" stroke="#222" stroke-width="0.6" />
<line x1="536.9" y1="50.2" x2="539.5" y2="50.2" stroke="#222" stroke-width="0.6" />
<line x1="536.9" y1="52.6" x2="539.5" y2="52.6" stroke="#222" stroke-width="0.6" />
<line x1="538.2" y1="34.1" x2="538.2" y2="38.2" stroke="#222" stroke-width="0.6" />
<line x1="536.9" y1="34.1" x2="539.5" y2="34.1" stroke="#222" stroke-width="0.6" />
<line x1="536.9" y1="38.2" x2="539.5" y2="38.2" stroke="#222" stroke-width="0.6" />
<line x1="538.2" y1="29.8" x2="538.2" y2="30.8" stroke="#222" stroke-width="0.6" />
<line x1="536.9" y1="29.8" x2="539.5" y2="29.8" stroke="#222" stroke-width="0.6" />
<line x1="536.9" y1="30.8" x2="539.5" y2="30.8" stroke="#222" stroke-width="0.6" />
<line x1="557.7" y1="79.7" x2="557.7" y2="93.3" stroke="#222" stroke-width="0.6" />
<line x1="556.4" y1="79.7" x2="559" y2="79.7" stroke="#222" stroke-width="0.6" />
<line x1="556.4" y1="93.3" x2="559" y2="93.3" stroke="#222" stroke-width="0.6" />
<line x1="557.7" y1="71.3" x2="557.7" y2="77" stroke="#222" stroke-width="0.6" />
<line x1="556.4" y1="71.3" x2="559" y2="71.3" stroke="#222" stroke-width="0.6" />
<line x1="556.4" y1="77" x2="559" y2="77" stroke="#222" stroke-width="0.6" />
<line x1="557.7" y1="54.2" x2="557.7" y2="63.3" stroke="#222" stroke-width="0.6" />
<line x1="556.4" y1="54.2" x2="559" y2="54.2" stroke="#222" stroke-width="0.6" />
<line x1="556.4" y1="63.3" x2="559" y2="63.3" stroke="#222" stroke-width="0.6" />
<line x1="557.7" y1="34.8" x2="557.7" y2="38.2" stroke="#222" stroke-width="0.6" />
<line x1="556.4" y1="34.8" x2="559" y2="34.8" stroke="#222" stroke-width="0.6" />
<line x1="556.4" y1="38.2" x2="559" y2="38.2" stroke="#222" stroke-width="0.6" />
<line x1="557.7" y1="24.2" x2="557.7" y2="25" stroke="#222" stroke-width="0.6" />
<line x1="556.4" y1="24.2" x2="559" y2="24.2" stroke="#222" stroke-width="0.6" />
<line x1="556.4" y1="25" x2="559" y2="25" stroke="#222" stroke-width="0.6" />
<line x1="577.2" y1="84" x2="577.2" y2="107.3" stroke="#222" stroke-width="0.6" />
<line x1="575.9" y1="84" x2="578.5" y2="84" stroke="#222" stroke-width="0.6" />
<line x1="575.9" y1="107.3" x2="578.5" y2="107.3" stroke="#222" stroke-width="0.6" />
<line x1="577.2" y1="80" x2="577.2" y2="84.5" stroke="#222" stroke-width="0.6" />
<line x1="575.9" y1="80" x2="578.5" y2="80" stroke="#222" stroke-width="0.6" />
<line x1="575.9" y1="84.5" x2="578.5" y2="84.5" stroke="#222" stroke-width="0.6" />
<line x1="577.2" y1="52.5" x2="577.2" y2="61" stroke="#222" stroke-width="0.6" />
<line x1="575.9" y1="52.5" x2="578.5" y2="52.5" stroke="#222" stroke-width="0.6" />
<line x1="575.9" y1="61" x2="578.5" y2="61" stroke="#222" stroke-width="0.6" />
<line x1="577.2" y1="47.8" x2="577.2" y2="49" stroke="#222" stroke-width="0.6" />
<line x1="575.9" y1="47.8" x2="578.5" y2="47.8" stroke="#222" stroke-width="0.6" />
<line x1="575.9" y1="49" x2="578.5" y2="49" stroke="#222" stroke-width="0.6" />
<line x1="577.2" y1="27.6" x2="577.2" y2="28.5" stroke="#222" stroke-width="0.6" />
<line x1="575.9" y1="27.6" x2="578.5" y2="27.6" stroke="#222" stroke-width="0.6" />
<line x1="575.9" y1="28.5" x2="578.5" y2="28.5" stroke="#222" stroke-width="0.6" />
<line x1="596.7" y1="117.3" x2="596.7" y2="133.4" stroke="#222" stroke-width="0.6" />
<line x1="595.4" y1="117.3" x2="598" y2="117.3" stroke="#222" stroke-width="0.6" />
<line x1="595.4" y1="133.4" x2="598" y2="133.4" stroke="#222" stroke-width="0.6" />
<line x1="596.7" y1="106" x2="596.7" y2="111.7" stroke="#222" stroke-width="0.6" />
<line x1="595.4" y1="106" x2="598" y2="106" stroke="#222" stroke-width="0.6" />
<line x1="595.4" y1="111.7" x2="598" y2="111.7" stroke="#222" stroke-width="0.6" />
<line x1="596.7" y1="73.8" x2="596.7" y2="76.8" stroke="#222" stroke-width="0.6" />
<line x1="595.4" y1="73.8" x2="598" y2="73.8" stroke="#222" stroke-width="0.6" />
<line x1="595.4" y1="76.8" x2="598" y2="76.8" stroke="#222" stroke-width="0.6" />
<line x1="596.7" y1="41.4" x2="596.7" y2="51.5" stroke="#222" stroke-width="0.6" />
<line x1="595.4" y1="41.4" x2="598" y2="41.4" stroke="#222" stroke-width="0.6" />
<line x1="595.4" y1="51.5" x2="598" y2="51.5" stroke="#222" stroke-width="0.6" />
<line x1="596.7" y1="20.1" x2="596.7" y2="30.2" stroke="#222" stroke-width="0.6" />
<line x1="595.4" y1="20.1" x2="598" y2="20.1" stroke="#222" stroke-width="0.6" />
<line x1="595.4" y1="30.2" x2="598" y2="30.2" stroke="#222" stroke-width="0.6" />
<line x1="616.2" y1="118.5" x2="616.2" y2="138.4" stroke="#222" stroke-width="0.6" />
<line x1="614.9" y1="118.5" x2="617.5" y2="118.5" stroke="#222" stroke-width="0.6" />
<line x1="614.9" y1="138.4" x2="617.5" y2="138.4" stroke="#222" stroke-width="0.6" />
<line x1="616.2" y1="117.5" x2="616.2" y2="123" stroke="#222" stroke-width="0.6" />
<line x1="614.9" y1="117.5" x2="617.5" y2="117.5" stroke="#222" stroke-width="0.6" />
<line x1="614.9" y1="123" x2="617.5" y2="123" stroke="#222" stroke-width="0.6" />
<line x1="616.2" y1="62.5" x2="616.2" y2="66" stroke="#222" stroke-width="0.6" />
<line x1="614.9" y1="62.5" x2="617.5" y2="62.5" stroke="#222" stroke-width="0.6" />
<line x1="614.9" y1="66" x2="617.5" y2="66" stroke="#222" stroke-width="0.6" />
<line x1="616.2" y1="42" x2="616.2" y2="47" stroke="#222" stroke-width="0.6" />
<line x1="614.9" y1="42" x2="617.5" y2="42" stroke="#222" stroke-width="0.6" />
<line x1="614.9" y1="47" x2="617.5" y2="47" stroke="#222" stroke-width="0.6" />
<line x1="616.2" y1="25" x2="616.2" y2="29.5" stroke="#222" stroke-width="0.6" />
<line x1="614.9" y1="25" x2="617.5" y2="25" stroke="#222" stroke-width="0.6" />
<line x1="614.9" y1="29.5" x2="617.5" y2="29.5" stroke="#222" stroke-width="0.6" />
<line x1="635.7" y1="131.5" x2="635.7" y2="136" stroke="#222" stroke-width="0.6" />
<line x1="634.4" y1="131.5" x2="637" y2="131.5" stroke="#222" stroke-width="0.6" />
<line x1="634.4" y1="136" x2="637" y2="136" stroke="#222" stroke-width="0.6" />
<line x1="635.7" y1="129.5" x2="635.7" y2="131.5" stroke="#222" stroke-width="0.6" />
<line x1="634.4" y1="129.5" x2="637" y2="129.5" stroke="#222" stroke-width="0.6" />
<line x1="634.4" y1="131.5" x2="637" y2="131.5" stroke="#222" stroke-width="0.6" />
<line x1="635.7" y1="49" x2="635.7" y2="51" stroke="#222" stroke-width="0.6" />
<line x1="634.4" y1="49" x2="637" y2="49" stroke="#222" stroke-width="0.6" />
<line x1="634.4" y1="51" x2="637" y2="51" stroke="#222" stroke-width="0.6" />
<line x1="635.7" y1="37.8" x2="635.7" y2="39" stroke="#222" stroke-width="0.6" />
<line x1="634.4" y1="37.8" x2="637" y2="37.8" stroke="#222" stroke-width="0.6" />
<line x1="634.4" y1="39" x2="637" y2="39" stroke="#222" stroke-width="0.6" />
<line x1="635.7" y1="25" x2="635.7" y2="25.5" stroke="#222" stroke-width="0.6" />
<line x1="634.4" y1="25" x2="637" y2="25" stroke="#222" stroke-width="0.6" />
<line x1="634.4" y1="25.5" x2="637" y2="25.5" stroke="#222" stroke-width="0.6" />
<line x1="655.2" y1="139.5" x2="655.2" y2="143" stroke="#222" stroke-width="0.6" />
<line x1="653.9" y1="139.5" x2="656.5" y2="139.5" stroke="#222" stroke-width="0.6" />
<line x1="653.9" y1="143" x2="656.5" y2="143" stroke="#222" stroke-width="0.6" />
<line x1="655.2" y1="138" x2="655.2" y2="140" stroke="#222" stroke-width="0.6" />
<line x1="653.9" y1="138" x2="656.5" y2="138" stroke="#222" stroke-width="0.6" />
<line x1="653.9" y1="140" x2="656.5" y2="140" stroke="#222" stroke-width="0.6" />
<line x1="655.2" y1="46" x2="655.2" y2="49" stroke="#222" stroke-width="0.6" />
<line x1="653.9" y1="46" x2="656.5" y2="46" stroke="#222" stroke-width="0.6" />
<line x1="653.9" y1="49" x2="656.5" y2="49" stroke="#222" stroke-width="0.6" />
<line x1="655.2" y1="35.5" x2="655.2" y2="37" stroke="#222" stroke-width="0.6" />
<line x1="653.9" y1="35.5" x2="656.5" y2="35.5" stroke="#222" stroke-width="0.6" />
<line x1="653.9" y1="37" x2="656.5" y2="37" stroke="#222" stroke-width="0.6" />
<line x1="655.2" y1="29.3" x2="655.2" y2="30" stroke="#222" stroke-width="0.6" />
<line x1="653.9" y1="29.3" x2="656.5" y2="29.3" stroke="#222" stroke-width="0.6" />
<line x1="653.9" y1="30" x2="656.5" y2="30" stroke="#222" stroke-width="0.6" />
<line x1="674.7" y1="148" x2="674.7" y2="150.5" stroke="#222" stroke-width="0.6" />
<line x1="673.4" y1="148" x2="676" y2="148" stroke="#222" stroke-width="0.6" />
<line x1="673.4" y1="150.5" x2="676" y2="150.5" stroke="#222" stroke-width="0.6" />
<line x1="674.7" y1="37" x2="674.7" y2="39" stroke="#222" stroke-width="0.6" />
<line x1="673.4" y1="37" x2="676" y2="37" stroke="#222" stroke-width="0.6" />
<line x1="673.4" y1="39" x2="676" y2="39" stroke="#222" stroke-width="0.6" />
<line x1="674.7" y1="26.3" x2="674.7" y2="27" stroke="#222" stroke-width="0.6" />
<line x1="673.4" y1="26.3" x2="676" y2="26.3" stroke="#222" stroke-width="0.6" />
<line x1="673.4" y1="27" x2="676" y2="27" stroke="#222" stroke-width="0.6" />
<rect x="508.6" y="12.8" width="175.79999999999995" height="143.7" fill="none" stroke="#1a1a1a" stroke-width="1.1"/>
<line x1="506.4" y1="156.5" x2="508.6" y2="156.5" stroke="#1a1a1a" stroke-width="0.9" />
<text transform="translate(503.3 159.7) scale(0.86 1)" x="0" y="0" font-size="9.2" text-anchor="end" fill="#1a1a1a">0</text>
<line x1="507.3" y1="142.8" x2="508.6" y2="142.8" stroke="#1a1a1a" stroke-width="0.9" />
<line x1="506.4" y1="129.1" x2="508.6" y2="129.1" stroke="#1a1a1a" stroke-width="0.9" />
<text transform="translate(503.3 132.3) scale(0.86 1)" x="0" y="0" font-size="9.2" text-anchor="end" fill="#1a1a1a">20</text>
<line x1="507.3" y1="115.4" x2="508.6" y2="115.4" stroke="#1a1a1a" stroke-width="0.9" />
<line x1="506.4" y1="101.7" x2="508.6" y2="101.7" stroke="#1a1a1a" stroke-width="0.9" />
<text transform="translate(503.3 104.9) scale(0.86 1)" x="0" y="0" font-size="9.2" text-anchor="end" fill="#1a1a1a">40</text>
<line x1="507.3" y1="88" x2="508.6" y2="88" stroke="#1a1a1a" stroke-width="0.9" />
<line x1="506.4" y1="74.3" x2="508.6" y2="74.3" stroke="#1a1a1a" stroke-width="0.9" />
<text transform="translate(503.3 77.5) scale(0.86 1)" x="0" y="0" font-size="9.2" text-anchor="end" fill="#1a1a1a">60</text>
<line x1="507.3" y1="60.6" x2="508.6" y2="60.6" stroke="#1a1a1a" stroke-width="0.9" />
<line x1="506.4" y1="46.9" x2="508.6" y2="46.9" stroke="#1a1a1a" stroke-width="0.9" />
<text transform="translate(503.3 50.1) scale(0.86 1)" x="0" y="0" font-size="9.2" text-anchor="end" fill="#1a1a1a">80</text>
<line x1="507.3" y1="33.2" x2="508.6" y2="33.2" stroke="#1a1a1a" stroke-width="0.9" />
<line x1="506.4" y1="19.5" x2="508.6" y2="19.5" stroke="#1a1a1a" stroke-width="0.9" />
<text transform="translate(503.3 22.7) scale(0.86 1)" x="0" y="0" font-size="9.2" text-anchor="end" fill="#1a1a1a">100</text>
<line x1="518.7" y1="156.5" x2="518.7" y2="158.7" stroke="#1a1a1a" stroke-width="0.9" />
<line x1="528.45" y1="156.5" x2="528.45" y2="157.8" stroke="#1a1a1a" stroke-width="0.9" />
<text transform="translate(517.2 169.4) scale(0.86 1)" x="0" y="0" font-size="9.2" text-anchor="middle" fill="#1a1a1a">-1.4</text>
<line x1="538.2" y1="156.5" x2="538.2" y2="158.7" stroke="#1a1a1a" stroke-width="0.9" />
<line x1="547.95" y1="156.5" x2="547.95" y2="157.8" stroke="#1a1a1a" stroke-width="0.9" />
<text transform="translate(536.7 169.4) scale(0.86 1)" x="0" y="0" font-size="9.2" text-anchor="middle" fill="#1a1a1a">-1.3</text>
<line x1="557.7" y1="156.5" x2="557.7" y2="158.7" stroke="#1a1a1a" stroke-width="0.9" />
<line x1="567.45" y1="156.5" x2="567.45" y2="157.8" stroke="#1a1a1a" stroke-width="0.9" />
<text transform="translate(556.2 169.4) scale(0.86 1)" x="0" y="0" font-size="9.2" text-anchor="middle" fill="#1a1a1a">-1.2</text>
<line x1="577.2" y1="156.5" x2="577.2" y2="158.7" stroke="#1a1a1a" stroke-width="0.9" />
<line x1="586.95" y1="156.5" x2="586.95" y2="157.8" stroke="#1a1a1a" stroke-width="0.9" />
<text transform="translate(575.7 169.4) scale(0.86 1)" x="0" y="0" font-size="9.2" text-anchor="middle" fill="#1a1a1a">-1.1</text>
<line x1="596.7" y1="156.5" x2="596.7" y2="158.7" stroke="#1a1a1a" stroke-width="0.9" />
<line x1="606.45" y1="156.5" x2="606.45" y2="157.8" stroke="#1a1a1a" stroke-width="0.9" />
<text transform="translate(595.2 169.4) scale(0.86 1)" x="0" y="0" font-size="9.2" text-anchor="middle" fill="#1a1a1a">-1</text>
<line x1="616.2" y1="156.5" x2="616.2" y2="158.7" stroke="#1a1a1a" stroke-width="0.9" />
<line x1="625.95" y1="156.5" x2="625.95" y2="157.8" stroke="#1a1a1a" stroke-width="0.9" />
<text transform="translate(614.7 169.4) scale(0.86 1)" x="0" y="0" font-size="9.2" text-anchor="middle" fill="#1a1a1a">-0.9</text>
<line x1="635.7" y1="156.5" x2="635.7" y2="158.7" stroke="#1a1a1a" stroke-width="0.9" />
<line x1="645.45" y1="156.5" x2="645.45" y2="157.8" stroke="#1a1a1a" stroke-width="0.9" />
<text transform="translate(634.2 169.4) scale(0.86 1)" x="0" y="0" font-size="9.2" text-anchor="middle" fill="#1a1a1a">-0.8</text>
<line x1="655.2" y1="156.5" x2="655.2" y2="158.7" stroke="#1a1a1a" stroke-width="0.9" />
<line x1="664.95" y1="156.5" x2="664.95" y2="157.8" stroke="#1a1a1a" stroke-width="0.9" />
<text transform="translate(653.7 169.4) scale(0.86 1)" x="0" y="0" font-size="9.2" text-anchor="middle" fill="#1a1a1a">-0.7</text>
<line x1="674.7" y1="156.5" x2="674.7" y2="158.7" stroke="#1a1a1a" stroke-width="0.9" />
<text transform="translate(673.2 169.4) scale(0.86 1)" x="0" y="0" font-size="9.2" text-anchor="middle" fill="#1a1a1a">-0.6</text>
<line x1="508.95" y1="156.5" x2="508.95" y2="157.8" stroke="#1a1a1a" stroke-width="0.9" />
<text x="596.5" y="186.8" font-size="11.1" text-anchor="middle" font-weight="normal" fill="#1a1a1a" style="">Potential (E-<tspan font-style="italic">i</tspan>R, V <tspan font-style="italic">vs.</tspan> RHE)</text>
<text x="484.4" y="84.5" font-size="11" text-anchor="middle" font-weight="normal" fill="#1a1a1a" transform="rotate(-90 484.4 84.5)" style="">Faradaic Efficiency (%)</text>
<rect x="507.6" y="2.2" width="8" height="7.6" fill="#ca4f7f" stroke="#555" stroke-width="0.5"/>
<text x="516.6" y="9" font-size="6.9" text-anchor="start" font-weight="normal" fill="#1a1a1a" style="">CH<tspan dy="1.6" font-size="4.2">3</tspan><tspan dy="-1.6">OH</tspan></text>
<rect x="542.3" y="2.2" width="8" height="7.6" fill="#e9816b" stroke="#555" stroke-width="0.5"/>
<text x="551.6" y="9" font-size="6.9" text-anchor="start" font-weight="normal" fill="#1a1a1a" style="">CH<tspan dy="1.6" font-size="4.2">3</tspan><tspan dy="-1.6">COO</tspan><tspan dy="-3" font-size="4.2">-</tspan></text>
<rect x="583.2" y="2.2" width="8" height="7.6" fill="#f0b479" stroke="#555" stroke-width="0.5"/>
<text x="592.4" y="9" font-size="6.9" text-anchor="start" font-weight="normal" fill="#1a1a1a" style="">HCOO<tspan dy="-3" font-size="4.2">-</tspan></text>
<rect x="617.4" y="2.2" width="8" height="7.6" fill="#a6cb8c" stroke="#555" stroke-width="0.5"/>
<text x="626.6" y="9" font-size="6.9" text-anchor="start" font-weight="normal" fill="#1a1a1a" style="">CH<tspan dy="1.6" font-size="4.2">4</tspan></text>
<rect x="643.4" y="2.2" width="8" height="7.6" fill="#3db58a" stroke="#555" stroke-width="0.5"/>
<text x="652.4" y="9" font-size="6.9" text-anchor="start" font-weight="normal" fill="#1a1a1a" style="">CO</text>
<rect x="667.5" y="2.2" width="8" height="7.6" fill="#10908b" stroke="#555" stroke-width="0.5"/>
<text x="676.2" y="9" font-size="6.9" text-anchor="start" font-weight="normal" fill="#1a1a1a" style="">H<tspan dy="1.6" font-size="4.2">2</tspan></text>
<text x="0.4" y="219.6" font-size="15.5" text-anchor="start" font-weight="bold" fill="#111" style="">d</text>
<rect x="73" y="330" width="16.6" height="30" fill="#a9c3e8" stroke="#333" stroke-width="0.8"/>
<rect x="100.2" y="285.2" width="16.6" height="74.8" fill="#a9c3e8" stroke="#333" stroke-width="0.8"/>
<rect x="127.4" y="334.3" width="16.6" height="25.7" fill="#a9c3e8" stroke="#333" stroke-width="0.8"/>
<rect x="154.6" y="352.7" width="16.6" height="7.3" fill="#a9c3e8" stroke="#333" stroke-width="0.8"/>
<line x1="81.3" y1="324.4" x2="81.3" y2="335.6" stroke="#333" stroke-width="0.7" />
<line x1="79.7" y1="324.4" x2="82.9" y2="324.4" stroke="#333" stroke-width="0.7" />
<line x1="79.7" y1="335.6" x2="82.9" y2="335.6" stroke="#333" stroke-width="0.7" />
<line x1="108.5" y1="272.2" x2="108.5" y2="297.3" stroke="#333" stroke-width="0.7" />
<line x1="106.9" y1="272.2" x2="110.1" y2="272.2" stroke="#333" stroke-width="0.7" />
<line x1="106.9" y1="297.3" x2="110.1" y2="297.3" stroke="#333" stroke-width="0.7" />
<line x1="135.7" y1="328.5" x2="135.7" y2="340" stroke="#333" stroke-width="0.7" />
<line x1="134.1" y1="328.5" x2="137.3" y2="328.5" stroke="#333" stroke-width="0.7" />
<line x1="134.1" y1="340" x2="137.3" y2="340" stroke="#333" stroke-width="0.7" />
<line x1="162.9" y1="350.6" x2="162.9" y2="354.6" stroke="#333" stroke-width="0.7" />
<line x1="161.3" y1="350.6" x2="164.5" y2="350.6" stroke="#333" stroke-width="0.7" />
<line x1="161.3" y1="354.6" x2="164.5" y2="354.6" stroke="#333" stroke-width="0.7" />
<line x1="81.3" y1="302.5" x2="81.3" y2="317.5" stroke="#8eb2e2" stroke-width="0.8" />
<line x1="79.7" y1="302.5" x2="82.9" y2="302.5" stroke="#8eb2e2" stroke-width="0.8" />
<line x1="79.7" y1="317.5" x2="82.9" y2="317.5" stroke="#8eb2e2" stroke-width="0.8" />
<line x1="108.5" y1="228.5" x2="108.5" y2="252.4" stroke="#8eb2e2" stroke-width="0.8" />
<line x1="106.9" y1="228.5" x2="110.1" y2="228.5" stroke="#8eb2e2" stroke-width="0.8" />
<line x1="106.9" y1="252.4" x2="110.1" y2="252.4" stroke="#8eb2e2" stroke-width="0.8" />
<line x1="135.7" y1="311.9" x2="135.7" y2="332.9" stroke="#8eb2e2" stroke-width="0.8" />
<line x1="134.1" y1="311.9" x2="137.3" y2="311.9" stroke="#8eb2e2" stroke-width="0.8" />
<line x1="134.1" y1="332.9" x2="137.3" y2="332.9" stroke="#8eb2e2" stroke-width="0.8" />
<polyline points="54.1,360 81.3,310 108.5,240.2 135.7,319.8 162.9,352.1 190.1,360.3" fill="none" stroke="#2a5db4" stroke-width="1.4" stroke-linejoin="round" stroke-linecap="round" />
<rect x="52.4" y="358.3" width="3.4" height="3.4" fill="#1e4fa8" stroke="none" stroke-width="0.6"/>
<rect x="79.6" y="308.3" width="3.4" height="3.4" fill="#1e4fa8" stroke="none" stroke-width="0.6"/>
<rect x="106.8" y="238.5" width="3.4" height="3.4" fill="#1e4fa8" stroke="none" stroke-width="0.6"/>
<rect x="134" y="318.1" width="3.4" height="3.4" fill="#1e4fa8" stroke="none" stroke-width="0.6"/>
<rect x="161.2" y="350.4" width="3.4" height="3.4" fill="#1e4fa8" stroke="none" stroke-width="0.6"/>
<rect x="188.4" y="358.6" width="3.4" height="3.4" fill="#1e4fa8" stroke="none" stroke-width="0.6"/>
<rect x="40.3" y="222.3" width="163.89999999999998" height="137.7" fill="none" stroke="#1a1a1a" stroke-width="1.1"/>
<line x1="37.9" y1="360" x2="40.3" y2="360" stroke="#1a1a1a" stroke-width="0.9" />
<text transform="translate(34.7 363.2) scale(0.92 1)" x="0" y="0" font-size="10.3" text-anchor="end" fill="#1a1a1a">0</text>
<line x1="39" y1="353.12" x2="40.3" y2="353.12" stroke="#1a1a1a" stroke-width="0.9" />
<line x1="39" y1="346.23" x2="40.3" y2="346.23" stroke="#1a1a1a" stroke-width="0.9" />
<line x1="39" y1="339.35" x2="40.3" y2="339.35" stroke="#1a1a1a" stroke-width="0.9" />
<line x1="39" y1="332.46" x2="40.3" y2="332.46" stroke="#1a1a1a" stroke-width="0.9" />
<line x1="37.9" y1="325.57" x2="40.3" y2="325.57" stroke="#1a1a1a" stroke-width="0.9" />
<text transform="translate(34.7 328.77) scale(0.92 1)" x="0" y="0" font-size="10.3" text-anchor="end" fill="#1a1a1a">5</text>
<line x1="39" y1="318.69" x2="40.3" y2="318.69" stroke="#1a1a1a" stroke-width="0.9" />
<line x1="39" y1="311.81" x2="40.3" y2="311.81" stroke="#1a1a1a" stroke-width="0.9" />
<line x1="39" y1="304.92" x2="40.3" y2="304.92" stroke="#1a1a1a" stroke-width="0.9" />
<line x1="39" y1="298.04" x2="40.3" y2="298.04" stroke="#1a1a1a" stroke-width="0.9" />
<line x1="37.9" y1="291.15" x2="40.3" y2="291.15" stroke="#1a1a1a" stroke-width="0.9" />
<text transform="translate(34.7 294.35) scale(0.92 1)" x="0" y="0" font-size="10.3" text-anchor="end" fill="#1a1a1a">10</text>
<line x1="39" y1="284.26" x2="40.3" y2="284.26" stroke="#1a1a1a" stroke-width="0.9" />
<line x1="39" y1="277.38" x2="40.3" y2="277.38" stroke="#1a1a1a" stroke-width="0.9" />
<line x1="39" y1="270.5" x2="40.3" y2="270.5" stroke="#1a1a1a" stroke-width="0.9" />
<line x1="39" y1="263.61" x2="40.3" y2="263.61" stroke="#1a1a1a" stroke-width="0.9" />
<line x1="37.9" y1="256.73" x2="40.3" y2="256.73" stroke="#1a1a1a" stroke-width="0.9" />
<text transform="translate(34.7 259.93) scale(0.92 1)" x="0" y="0" font-size="10.3" text-anchor="end" fill="#1a1a1a">15</text>
<line x1="39" y1="249.84" x2="40.3" y2="249.84" stroke="#1a1a1a" stroke-width="0.9" />
<line x1="39" y1="242.96" x2="40.3" y2="242.96" stroke="#1a1a1a" stroke-width="0.9" />
<line x1="39" y1="236.07" x2="40.3" y2="236.07" stroke="#1a1a1a" stroke-width="0.9" />
<line x1="39" y1="229.19" x2="40.3" y2="229.19" stroke="#1a1a1a" stroke-width="0.9" />
<line x1="37.9" y1="222.3" x2="40.3" y2="222.3" stroke="#1a1a1a" stroke-width="0.9" />
<text transform="translate(34.7 225.5) scale(0.92 1)" x="0" y="0" font-size="10.3" text-anchor="end" fill="#1a1a1a">20</text>
<line x1="204.2" y1="360" x2="206.6" y2="360" stroke="#1a1a1a" stroke-width="0.9" />
<text transform="translate(209.8 363.4) scale(0.92 1)" x="0" y="0" font-size="9.8" text-anchor="start" fill="#1a1a1a">0</text>
<line x1="204.2" y1="356.07" x2="205.5" y2="356.07" stroke="#1a1a1a" stroke-width="0.9" />
<line x1="204.2" y1="352.13" x2="205.5" y2="352.13" stroke="#1a1a1a" stroke-width="0.9" />
<line x1="204.2" y1="348.2" x2="205.5" y2="348.2" stroke="#1a1a1a" stroke-width="0.9" />
<line x1="204.2" y1="344.26" x2="205.5" y2="344.26" stroke="#1a1a1a" stroke-width="0.9" />
<line x1="204.2" y1="340.33" x2="206.6" y2="340.33" stroke="#1a1a1a" stroke-width="0.9" />
<text transform="translate(209.8 343.73) scale(0.92 1)" x="0" y="0" font-size="9.8" text-anchor="start" fill="#1a1a1a">10</text>
<line x1="204.2" y1="336.39" x2="205.5" y2="336.39" stroke="#1a1a1a" stroke-width="0.9" />
<line x1="204.2" y1="332.46" x2="205.5" y2="332.46" stroke="#1a1a1a" stroke-width="0.9" />
<line x1="204.2" y1="328.53" x2="205.5" y2="328.53" stroke="#1a1a1a" stroke-width="0.9" />
<line x1="204.2" y1="324.59" x2="205.5" y2="324.59" stroke="#1a1a1a" stroke-width="0.9" />
<line x1="204.2" y1="320.66" x2="206.6" y2="320.66" stroke="#1a1a1a" stroke-width="0.9" />
<text transform="translate(209.8 324.06) scale(0.92 1)" x="0" y="0" font-size="9.8" text-anchor="start" fill="#1a1a1a">20</text>
<line x1="204.2" y1="316.72" x2="205.5" y2="316.72" stroke="#1a1a1a" stroke-width="0.9" />
<line x1="204.2" y1="312.79" x2="205.5" y2="312.79" stroke="#1a1a1a" stroke-width="0.9" />
<line x1="204.2" y1="308.85" x2="205.5" y2="308.85" stroke="#1a1a1a" stroke-width="0.9" />
<line x1="204.2" y1="304.92" x2="205.5" y2="304.92" stroke="#1a1a1a" stroke-width="0.9" />
<line x1="204.2" y1="300.99" x2="206.6" y2="300.99" stroke="#1a1a1a" stroke-width="0.9" />
<text transform="translate(209.8 304.39) scale(0.92 1)" x="0" y="0" font-size="9.8" text-anchor="start" fill="#1a1a1a">30</text>
<line x1="204.2" y1="297.05" x2="205.5" y2="297.05" stroke="#1a1a1a" stroke-width="0.9" />
<line x1="204.2" y1="293.12" x2="205.5" y2="293.12" stroke="#1a1a1a" stroke-width="0.9" />
<line x1="204.2" y1="289.18" x2="205.5" y2="289.18" stroke="#1a1a1a" stroke-width="0.9" />
<line x1="204.2" y1="285.25" x2="205.5" y2="285.25" stroke="#1a1a1a" stroke-width="0.9" />
<line x1="204.2" y1="281.31" x2="206.6" y2="281.31" stroke="#1a1a1a" stroke-width="0.9" />
<text transform="translate(209.8 284.71) scale(0.92 1)" x="0" y="0" font-size="9.8" text-anchor="start" fill="#1a1a1a">40</text>
<line x1="204.2" y1="277.38" x2="205.5" y2="277.38" stroke="#1a1a1a" stroke-width="0.9" />
<line x1="204.2" y1="273.45" x2="205.5" y2="273.45" stroke="#1a1a1a" stroke-width="0.9" />
<line x1="204.2" y1="269.51" x2="205.5" y2="269.51" stroke="#1a1a1a" stroke-width="0.9" />
<line x1="204.2" y1="265.58" x2="205.5" y2="265.58" stroke="#1a1a1a" stroke-width="0.9" />
<line x1="204.2" y1="261.64" x2="206.6" y2="261.64" stroke="#1a1a1a" stroke-width="0.9" />
<text transform="translate(209.8 265.04) scale(0.92 1)" x="0" y="0" font-size="9.8" text-anchor="start" fill="#1a1a1a">50</text>
<line x1="204.2" y1="257.71" x2="205.5" y2="257.71" stroke="#1a1a1a" stroke-width="0.9" />
<line x1="204.2" y1="253.77" x2="205.5" y2="253.77" stroke="#1a1a1a" stroke-width="0.9" />
<line x1="204.2" y1="249.84" x2="205.5" y2="249.84" stroke="#1a1a1a" stroke-width="0.9" />
<line x1="204.2" y1="245.91" x2="205.5" y2="245.91" stroke="#1a1a1a" stroke-width="0.9" />
<line x1="204.2" y1="241.97" x2="206.6" y2="241.97" stroke="#1a1a1a" stroke-width="0.9" />
<text transform="translate(209.8 245.37) scale(0.92 1)" x="0" y="0" font-size="9.8" text-anchor="start" fill="#1a1a1a">60</text>
<line x1="204.2" y1="238.04" x2="205.5" y2="238.04" stroke="#1a1a1a" stroke-width="0.9" />
<line x1="204.2" y1="234.1" x2="205.5" y2="234.1" stroke="#1a1a1a" stroke-width="0.9" />
<line x1="204.2" y1="230.17" x2="205.5" y2="230.17" stroke="#1a1a1a" stroke-width="0.9" />
<line x1="204.2" y1="226.23" x2="205.5" y2="226.23" stroke="#1a1a1a" stroke-width="0.9" />
<line x1="204.2" y1="222.3" x2="206.6" y2="222.3" stroke="#1a1a1a" stroke-width="0.9" />
<text transform="translate(209.8 225.7) scale(0.92 1)" x="0" y="0" font-size="9.8" text-anchor="start" fill="#1a1a1a">70</text>
<line x1="54.1" y1="360" x2="54.1" y2="362.4" stroke="#1a1a1a" stroke-width="0.9" />
<line x1="67.7" y1="360" x2="67.7" y2="361.3" stroke="#1a1a1a" stroke-width="0.9" />
<text transform="translate(52.8 372.4) scale(0.92 1)" x="0" y="0" font-size="10.3" text-anchor="middle" fill="#1a1a1a">-1.4</text>
<line x1="81.3" y1="360" x2="81.3" y2="362.4" stroke="#1a1a1a" stroke-width="0.9" />
<line x1="94.9" y1="360" x2="94.9" y2="361.3" stroke="#1a1a1a" stroke-width="0.9" />
<text transform="translate(80 372.4) scale(0.92 1)" x="0" y="0" font-size="10.3" text-anchor="middle" fill="#1a1a1a">-1.3</text>
<line x1="108.5" y1="360" x2="108.5" y2="362.4" stroke="#1a1a1a" stroke-width="0.9" />
<line x1="122.1" y1="360" x2="122.1" y2="361.3" stroke="#1a1a1a" stroke-width="0.9" />
<text transform="translate(107.2 372.4) scale(0.92 1)" x="0" y="0" font-size="10.3" text-anchor="middle" fill="#1a1a1a">-1.2</text>
<line x1="135.7" y1="360" x2="135.7" y2="362.4" stroke="#1a1a1a" stroke-width="0.9" />
<line x1="149.3" y1="360" x2="149.3" y2="361.3" stroke="#1a1a1a" stroke-width="0.9" />
<text transform="translate(134.4 372.4) scale(0.92 1)" x="0" y="0" font-size="10.3" text-anchor="middle" fill="#1a1a1a">-1.1</text>
<line x1="162.9" y1="360" x2="162.9" y2="362.4" stroke="#1a1a1a" stroke-width="0.9" />
<line x1="176.5" y1="360" x2="176.5" y2="361.3" stroke="#1a1a1a" stroke-width="0.9" />
<text transform="translate(161.6 372.4) scale(0.92 1)" x="0" y="0" font-size="10.3" text-anchor="middle" fill="#1a1a1a">-1</text>
<line x1="190.1" y1="360" x2="190.1" y2="362.4" stroke="#1a1a1a" stroke-width="0.9" />
<text transform="translate(188.8 372.4) scale(0.92 1)" x="0" y="0" font-size="10.3" text-anchor="middle" fill="#1a1a1a">-0.9</text>
<line x1="40.5" y1="360" x2="40.5" y2="361.3" stroke="#1a1a1a" stroke-width="0.9" />
<text x="121.5" y="389.6" font-size="11.1" text-anchor="middle" font-weight="normal" fill="#1a1a1a" style="">Potential (E-<tspan font-style="italic">i</tspan>R, V <tspan font-style="italic">vs.</tspan> RHE)</text>
<text x="14.6" y="291" font-size="11.1" text-anchor="middle" font-weight="normal" fill="#1a1a1a" transform="rotate(-90 14.6 291)" style="">Faradaic Efficiency (%)</text>
<text x="232.6" y="290" font-size="11.0" text-anchor="middle" font-weight="normal" fill="#1a1a1a" transform="rotate(-90 232.6 290)" style="">Yield Rate (mmol h<tspan dy="-3.5" font-size="6.5">-1</tspan><tspan dy="3.5"> g</tspan><tspan dy="2.5" font-size="6.5">cat</tspan><tspan dy="-6" font-size="6.5">-1</tspan><tspan dy="3.5">)</tspan></text>
<rect x="43.8" y="210.6" width="11.4" height="9.4" fill="#a9c3e8" stroke="#444" stroke-width="0.8"/>
<text x="59.9" y="218" font-size="9.2" text-anchor="start" font-weight="normal" fill="#1a1a1a" style="">FE</text>
<text x="72.8" y="219" font-size="6.8" text-anchor="start" font-weight="normal" fill="#1a1a1a" style="">CO(NH<tspan dy="1.6" font-size="4">2</tspan><tspan dy="-1.6">)</tspan><tspan dy="1.6" font-size="4">2</tspan></text>
<line x1="106.4" y1="215.5" x2="117.7" y2="215.5" stroke="#2a5db4" stroke-width="1.3" />
<rect x="110.6" y="213.8" width="3.4" height="3.4" fill="#1e4fa8" stroke="none" stroke-width="0.6"/>
<text x="121.6" y="218" font-size="9.2" text-anchor="start" font-weight="normal" fill="#1a1a1a" style="">Yield Rate</text>
<text x="166.4" y="219" font-size="6.8" text-anchor="start" font-weight="normal" fill="#1a1a1a" style="">CO(NH<tspan dy="1.6" font-size="4">2</tspan><tspan dy="-1.6">)</tspan><tspan dy="1.6" font-size="4">2</tspan></text>
<text x="53.6" y="232.5" font-size="9.5" text-anchor="start" font-weight="normal" fill="#1a1a1a" style="">Urea</text>
<text x="64.7" y="242.8" font-size="7.4" text-anchor="middle" font-weight="normal" fill="#222" style="">O</text>
<line x1="63.8" y1="243.2" x2="63.8" y2="250.2" stroke="#333" stroke-width="0.6" />
<line x1="65.7" y1="243.2" x2="65.7" y2="250.2" stroke="#333" stroke-width="0.6" />
<text x="64.7" y="255" font-size="7.4" text-anchor="middle" font-weight="normal" fill="#222" style="">C</text>
<line x1="61.2" y1="253.6" x2="55.8" y2="256.8" stroke="#333" stroke-width="0.6" />
<line x1="67.6" y1="253.6" x2="72.9" y2="256.8" stroke="#333" stroke-width="0.6" />
<text x="43.4" y="261.8" font-size="7.2" text-anchor="start" font-weight="normal" fill="#222" style="">H<tspan dy="1.6" font-size="4">2</tspan><tspan dy="-1.6">N</tspan></text>
<text x="72.8" y="261.8" font-size="7.2" text-anchor="start" font-weight="normal" fill="#222" style="">NH<tspan dy="1.6" font-size="4">2</tspan></text>
<text x="251.6" y="219.4" font-size="15.6" text-anchor="start" font-weight="bold" fill="#111" style="">e</text>
<rect x="430.9" y="221.2" width="13" height="138.6" fill="#fcfadc" stroke="none" stroke-width="0.6"/>
<g clip-path="url(#clipE)">
<polyline points="275.3,272.6 275.75,273.17 276.2,272.7 276.65,272.53 277.1,272.01 277.55,272.48 278,273.64 278.45,273.33 278.9,273.76 279.35,273.22 279.8,273.23 280.25,273.07 280.7,271.56 281.15,273.29 281.6,273.36 282.05,273.37 282.5,271.63 282.95,271.24 283.4,271.86 283.85,272.32 284.3,273.04 284.75,272.91 285.2,273.34 285.65,272.51 286.1,273.11 286.55,273.3 287,272.5 287.45,274.25 287.9,273.67 288.35,274.07 288.8,272.7 289.25,272.34 289.7,272.59 290.15,272.83 290.6,273.47 291.1,273.4 291.4,245.8 291.7,273.4 292.4,272.4 292.85,273.78 293.3,272.36 293.75,272.82 294.2,272.95 294.65,271.34 295.1,272.14 295.55,273.21 296,270.69 296.45,271.49 296.9,271.81 297.35,271.07 297.8,271.21 298.25,269.9 299.1,266.5 299.6,221 300.1,221 300.6,277 300.95,276.35 301.4,276 301.85,274.79 302.3,276.08 302.75,275.34 303.2,275.31 303.65,274.65 304.1,274.74 304.55,275.1 305,276.62 305.45,274.25 305.9,274.23 306.35,275.57 306.8,276.79 307.25,276.33 307.9,275.4 308.2,248.8 308.5,275.4 309.05,274.98 309.5,274.58 309.95,276.18 310.4,276.6 310.85,275.92 311.3,275.86 311.75,276 312.2,276.95 312.65,276.36 313.1,276.16 313.55,276.15 314,274.45 314.45,276.39 314.9,276.51 315.35,276.2 315.8,274.13 316.25,274.79 316.7,276.1 317.15,274.24 317.6,275.16 318.05,276.31 318.5,274.67 318.95,276.68 319.4,276.23 319.85,275.58 320.3,275.83 320.75,276.13 321.2,275.77 321.65,276.51 322.1,275.21 322.55,275.15 323,276.3 323.45,275.71 323.9,274.87 324.35,276.16 324.8,276.83 325.25,275.43 325.7,274.4 326.15,275.19 326.6,275.33 327.05,275.24 327.5,276.57 327.95,274.89 328.4,276.38 328.85,274.66 329.3,274.69 329.75,275.83 330.2,276.45 330.65,276.36 331.1,275.92 331.55,275.67 332,275.62 332.45,275.95 332.9,275.41 333.35,275.66 333.8,275.94 334.25,275.53 334.7,276.06 335.15,276 335.6,277.14 336.05,276.02 336.5,275.19 336.95,275.06 337.4,275.32 337.85,276.11 338.3,275.26 338.75,275.66 339.2,276.9 339.65,273.62 340.1,274.11 340.55,275.3 341,275.66 341.45,275.6 341.9,275.05 342.35,275.8 342.8,275.65 343.25,274.97 343.7,277.19 344.15,275.97 344.6,274.99 345.05,275.16 345.5,275.08 345.95,275.2 346.4,273.08 346.85,274.45 347.3,275.91 347.75,274.46 348.2,275.04 348.65,275.97 349.1,276.08 349.55,276.6 350,274.15 350.45,274.73 350.9,274.85 351.35,275.64 351.8,276.17 352.25,273.25 352.7,275.68 353.15,274.14 353.6,275.53 354.05,274.06 354.5,275.1 354.95,276.11 355.4,275.24 355.85,275.33 356.3,275.83 356.75,275.4 357.2,275.13 357.65,276.37 358.1,276.22 358.55,275.12 359,277.32 359.45,274.65 359.9,275.76 360.35,275.03 360.8,275.2 361.25,275.69 361.7,275.4 362.15,275.67 362.6,273.98 363.05,273.66 363.5,275.29 363.95,274.35 364.4,274.11 364.85,273.7 365.3,275.81 365.75,275.81 366.2,276.39 366.65,274.57 367.1,274.96 367.55,274.12 368,275.47 368.45,276.4 368.9,274.6 369.35,276.2 369.8,276.06 370.25,275.09 370.7,273.46 371.15,275.84 371.6,275.11 372.05,274.56 372.5,275.25 372.95,275.39 373.4,276.29 373.85,274.45 374.3,275.81 374.75,276.36 375.2,276.44 375.65,275.15 376.1,274.44 376.55,275.71 377,275.24 377.45,275.15 377.9,276.17 378.35,275.02 378.8,273.17 379.25,274.32 379.7,273.38 380.15,275.33 380.6,275.32 381.05,274.59 381.5,274.93 381.95,275.68 382.4,275.25 382.85,276.18 383.3,275.27 383.75,276 384.2,276.53 384.65,276.75 385.1,275 385.55,275.92 386,273.93 386.45,274.2 386.9,273.59 387.35,275.92 387.8,274.59 388.25,275.33 388.7,275.37 389.15,275.55 389.6,275.17 390.05,275.8 390.5,277.2 390.95,276.13 391.4,276.34 391.85,276.79 392.3,275.96 392.75,274.98 393.2,275.38 393.65,276.8 394.1,274.94 394.55,275.43 395,276.84 395.45,276.98 395.9,276.41 396.35,276.95 396.8,276.57 397.25,275.44 397.7,274.92 398.15,275.57 398.6,276.96 399.05,276.05 399.5,275.61 399.95,275.63 400.4,275.02 400.85,276.03 401.3,275.38 401.75,276.49 402.2,274.54 402.65,276.3 403.1,275.88 403.55,274.75 404,276.67 404.45,276.25 404.9,274.61 405.35,275.37 405.8,276.46 406.25,276.08 406.7,277 407.15,277.17 407.6,277.14 408.05,276.87 408.5,277.62 408.95,277.24 409.4,277.01 409.85,274.94 410.3,276.91 410.75,277.65 411.2,276.51 411.65,276.16 412.1,278.02 412.55,275.44 413,276.71 413.45,278.54 413.9,276.23 414.35,277.07 414.8,278.2 415.25,276.83 415.7,277.11 416.15,277.44 416.6,276.07 417.05,276.46 417.5,276.85 417.95,277.36 418.4,276.78 418.85,276.54 419.3,275.84 419.75,276.24 420.2,277.32 420.65,276.91 421.1,276.07 421.55,275.92 422,278.7 422.45,278.04 422.9,277.51 423.35,274.83 423.8,276.87 424.25,277.17 424.7,278.2 425.15,277.4 425.6,276.85 426.05,277.21 426.5,275.32 426.95,277.32 427.4,277.16 427.85,276.31 428.3,277.76 428.75,278.44 429.2,276.01 429.65,276.11 430.1,276.89 430.55,276.97 431,276.52 431.45,275.97 431.9,278.34 432.35,277.52 432.8,274.4 433.25,272.65 433.7,273.73 434.15,272.37 434.6,271.76 435.05,269.82 435.5,267.08 435.95,266.44 436.4,263.37 436.85,262.88 437.3,262.33 437.75,263.65 438.2,264.04 438.65,265.62 439.1,267.42 439.55,268.73 440,270.22 440.45,271.2 440.9,271.99 441.35,274.05 441.8,274.89 442.25,275.38 442.7,276.38 443.15,276.89 443.6,276.91 444.05,277.14 444.5,277.07 444.95,277.2 445.4,276.99 445.85,276.06 446.3,277.22 446.75,277.97 447.2,277.63 447.65,277.07 448.1,277.47 448.55,276.43 449,275.48 449.45,276.87 449.9,276.36 450.35,277.6 450.8,276.39 451.25,274.92 451.7,275.9 452.15,278.19 452.6,277.09 453.05,276.08 453.5,276.36 453.95,277.45 454.4,277.65" fill="none" stroke="#3050a8" stroke-width="1.35" stroke-linejoin="round" stroke-linecap="round" />
<polyline points="298.9,269 299.6,221 300.1,221 300.7,277" fill="none" stroke="#3050a8" stroke-width="1.3" stroke-linejoin="round" stroke-linecap="round" />
<polyline points="275.3,339.53 275.8,339.74 276.3,339.72 276.8,339.61 277.3,339.64 277.8,339.82 278.3,339.81 278.8,339.81 279.3,339.49 279.8,339.47 280.3,339.6 280.8,339.5 281.3,339.66 281.8,339.67 282.3,339.72 282.8,339.58 283.3,339.92 283.8,339.9 284.3,339.67 284.8,339.6 285.3,339.94 285.8,339.67 286.3,339.72 286.8,339.76 287.3,339.63 287.8,339.39 288.3,339.47 288.8,339.54 289.3,339.69 289.8,339.72 290.3,339.61 290.8,339.69 291.3,339.68 291.8,339.62 292.3,339.57 292.8,339.5 293.3,339.61 293.8,339.4 294.3,339.36 294.8,339.43 295.3,339.25 295.8,339.31 296.3,339.11 296.8,339.21 297.3,339.44 297.8,339.56 298.3,339.53 298.8,339.48 299.3,339.28 299.8,339.67 300.3,339.67 300.8,339.75 301.3,339.5 301.8,339.48 302.3,339.22 302.8,339.48 303.3,339.64 303.8,339.29 304.3,339.39 304.8,339.55 305.3,339.27 305.8,339.12 306.3,339.16 306.8,339.24 307.3,339.17 307.8,339.35 308.3,339.47 308.8,339.59 309.3,339.66 309.8,339.81 310.3,339.84 310.8,339.48 311.3,339.43 311.8,339.31 312.3,339.26 312.8,339.38 313.3,339.45 313.8,339.56 314.3,339.3 314.8,339.23 315.3,339.37 315.8,339.42 316.3,339.43 316.8,339.47 317.3,339.38 317.8,339.56 318.3,339.6 318.8,339.55 319.3,339.44 319.8,339.46 320.3,339.09 320.8,339.16 321.3,339.35 321.8,339.22 322.3,339.41 322.8,339.49 323.3,339.31 323.8,339.38 324.3,339.41 324.8,339.54 325.3,339.63 325.8,339.58 326.3,339.43 326.8,339.46 327.3,339.49 327.8,339.63 328.3,339.63 328.8,339.48 329.3,339.31 329.8,339.37 330.3,339.35 330.8,339.28 331.3,339.39 331.8,339.4 332.3,339.49 332.8,339.6 333.3,339.51 333.8,339.88 334.3,339.67 334.8,339.77 335.3,339.68 335.8,339.78 336.3,339.31 336.8,339.32 337.3,339.47 337.8,339.6 338.3,339.93 338.8,339.79 339.3,339.87 339.8,339.83 340.3,339.83 340.8,339.77 341.3,339.64 341.8,339.68 342.3,339.46 342.8,339.69 343.3,339.47 343.8,339.56 344.3,339.88 344.8,339.69 345.3,339.63 345.8,339.77 346.3,339.67 346.8,339.5 347.3,339.57 347.8,339.66 348.3,339.72 348.8,339.53 349.3,339.81 349.8,339.94 350.3,339.76 350.8,339.71 351.3,339.58 351.8,339.79 352.3,339.58 352.8,339.68 353.3,339.56 353.8,339.46 354.3,339.63 354.8,339.81 355.3,339.69 355.8,339.54 356.3,339.68 356.8,339.63 357.3,339.65 357.8,339.85 358.3,339.89 358.8,339.66 359.3,339.97 359.8,339.78 360.3,339.8 360.8,339.6 361.3,339.59 361.8,339.33 362.3,339.73 362.8,339.87 363.3,339.55 363.8,339.35 364.3,339.23 364.8,339.59 365.3,339.52 365.8,339.55 366.3,339.53 366.8,339.55 367.3,339.41 367.8,339.51 368.3,339.34 368.8,339.46 369.3,339.58 369.8,339.66 370.3,339.6 370.8,339.47 371.3,339.56 371.8,339.51 372.3,339.79 372.8,339.82 373.3,339.7 373.8,339.58 374.3,339.49 374.8,339.41 375.3,339.46 375.8,339.58 376.3,339.67 376.8,339.73 377.3,339.99 377.8,339.7 378.3,339.66 378.8,340.06 379.3,339.56 379.8,339.51 380.3,339.59 380.8,339.63 381.3,339.69 381.8,339.62 382.3,339.68 382.8,339.66 383.3,339.76 383.8,339.41 384.3,339.38 384.8,339.5 385.3,339.41 385.8,339.36 386.3,339.59 386.8,339.51 387.3,339.67 387.8,339.76 388.3,339.74 388.8,339.76 389.3,339.68 389.8,339.45 390.3,339.53 390.8,339.65 391.3,339.56 391.8,339.58 392.3,339.72 392.8,339.55 393.3,339.69 393.8,339.94 394.3,339.71 394.8,339.69 395.3,339.64 395.8,339.87 396.3,339.8 396.8,339.86 397.3,339.64 397.8,339.64 398.3,339.64 398.8,339.37 399.3,339.72 399.8,339.82 400.3,339.47 400.8,339.67 401.3,339.63 401.8,339.71 402.3,339.73 402.8,339.46 403.3,339.52 403.8,339.81 404.3,339.64 404.8,339.49 405.3,339.36 405.8,339.32 406.3,339.53 406.8,339.84 407.3,339.81 407.8,339.76 408.3,340.04 408.8,339.76 409.3,339.6 409.8,339.7 410.3,339.75 410.8,339.54 411.3,339.42 411.8,339.57 412.3,339.64 412.8,339.44 413.3,339.51 413.8,339.49 414.3,339.63 414.8,339.62 415.3,339.61 415.8,339.57 416.3,339.76 416.8,339.9 417.3,339.71 417.8,339.79 418.3,339.59 418.8,339.62 419.3,339.73 419.8,339.9 420.3,339.7 420.8,339.64 421.3,339.65 421.8,339.4 422.3,339.5 422.8,339.44 423.3,339.56 423.8,339.4 424.3,339.18 424.8,339.37 425.3,339.5 425.8,339.43 426.3,339.61 426.8,339.51 427.3,339.4 427.8,339.5 428.3,339.23 428.8,339.21 429.3,339.28 429.8,339.43 430.3,339.32 430.8,339.31 431.3,339.11 431.8,339.1 432.3,339.23 432.8,338.85 433.3,338.99 433.8,338.42 434.3,337.96 434.8,337.33 435.3,336.42 435.8,334.32 436.3,330.54 436.8,323.6 437.3,311.71 437.8,309.71 438.3,322.03 438.8,330.11 439.3,334.06 439.8,336.18 440.3,337.28 440.8,338.15 441.3,338.25 441.8,338.51 442.3,338.25 442.8,338.8 443.3,338.95 443.8,339.25 444.3,339.61 444.8,339.49 445.3,339.41 445.8,339.35 446.3,339.28 446.8,339.29 447.3,339.49 447.8,339.51 448.3,339.54 448.8,339.52 449.3,339.68 449.8,339.7 450.3,339.62 450.8,339.71 451.3,339.63 451.8,339.45 452.3,339.75 452.8,339.75 453.3,339.54 453.8,339.75 454.3,339.74" fill="none" stroke="#2e2e2e" stroke-width="2.3" stroke-linejoin="round" stroke-linecap="round" />
</g>
<rect x="274.8" y="221.2" width="179.5" height="138.60000000000002" fill="none" stroke="#1a1a1a" stroke-width="1.1"/>
<line x1="288.6" y1="359.8" x2="288.6" y2="363.4" stroke="#1a1a1a" stroke-width="0.9" />
<text transform="translate(288.6 374.2) scale(0.95 1)" x="0" y="0" font-size="9.6" text-anchor="middle" fill="#1a1a1a">8.5</text>
<line x1="301.43" y1="359.8" x2="301.43" y2="361.8" stroke="#1a1a1a" stroke-width="0.9" />
<line x1="314.25" y1="359.8" x2="314.25" y2="363.4" stroke="#1a1a1a" stroke-width="0.9" />
<text transform="translate(314.25 374.2) scale(0.95 1)" x="0" y="0" font-size="9.6" text-anchor="middle" fill="#1a1a1a">8.0</text>
<line x1="327.08" y1="359.8" x2="327.08" y2="361.8" stroke="#1a1a1a" stroke-width="0.9" />
<line x1="339.9" y1="359.8" x2="339.9" y2="363.4" stroke="#1a1a1a" stroke-width="0.9" />
<text transform="translate(339.9 374.2) scale(0.95 1)" x="0" y="0" font-size="9.6" text-anchor="middle" fill="#1a1a1a">7.5</text>
<line x1="352.73" y1="359.8" x2="352.73" y2="361.8" stroke="#1a1a1a" stroke-width="0.9" />
<line x1="365.55" y1="359.8" x2="365.55" y2="363.4" stroke="#1a1a1a" stroke-width="0.9" />
<text transform="translate(365.55 374.2) scale(0.95 1)" x="0" y="0" font-size="9.6" text-anchor="middle" fill="#1a1a1a">7.0</text>
<line x1="378.38" y1="359.8" x2="378.38" y2="361.8" stroke="#1a1a1a" stroke-width="0.9" />
<line x1="391.2" y1="359.8" x2="391.2" y2="363.4" stroke="#1a1a1a" stroke-width="0.9" />
<text transform="translate(391.2 374.2) scale(0.95 1)" x="0" y="0" font-size="9.6" text-anchor="middle" fill="#1a1a1a">6.5</text>
<line x1="404.03" y1="359.8" x2="404.03" y2="361.8" stroke="#1a1a1a" stroke-width="0.9" />
<line x1="416.85" y1="359.8" x2="416.85" y2="363.4" stroke="#1a1a1a" stroke-width="0.9" />
<text transform="translate(416.85 374.2) scale(0.95 1)" x="0" y="0" font-size="9.6" text-anchor="middle" fill="#1a1a1a">6.0</text>
<line x1="429.68" y1="359.8" x2="429.68" y2="361.8" stroke="#1a1a1a" stroke-width="0.9" />
<line x1="442.5" y1="359.8" x2="442.5" y2="363.4" stroke="#1a1a1a" stroke-width="0.9" />
<text transform="translate(442.5 374.2) scale(0.95 1)" x="0" y="0" font-size="9.6" text-anchor="middle" fill="#1a1a1a">5.5</text>
<line x1="275.78" y1="359.8" x2="275.78" y2="361.8" stroke="#1a1a1a" stroke-width="0.9" />
<text x="366.3" y="391" font-size="11" text-anchor="middle" font-weight="normal" fill="#1a1a1a" style="">Chemical Shift (ppm)</text>
<text x="265.6" y="289.6" font-size="11.0" text-anchor="middle" font-weight="normal" fill="#1a1a1a" transform="rotate(-90 265.6 289.6)" style="">Intensity (a.u.)</text>
<text x="306" y="234.8" font-size="8.2" text-anchor="start" font-weight="normal" fill="#222" style="">Formate</text>
<text x="304.6" y="244.8" font-size="8.2" text-anchor="start" font-weight="normal" fill="#222" style="">8.27 ppm</text>
<text x="433.4" y="240.4" font-size="8.2" text-anchor="middle" font-weight="normal" fill="#222" style="">Urea</text>
<text x="433.2" y="250.4" font-size="8.2" text-anchor="middle" font-weight="normal" fill="#222" style="">5.63 ppm</text>
<text x="280.4" y="291.4" font-size="9.6" text-anchor="start" font-weight="normal" fill="#222" style="">Electroreduction CO<tspan dy="1.8" font-size="5">2</tspan><tspan dy="-1.8"> and NO</tspan><tspan dy="1.8" font-size="5">2</tspan><tspan dy="-5" font-size="5">-</tspan></text>
<text x="282" y="354.2" font-size="9.7" text-anchor="start" font-weight="normal" fill="#222" style="">Urea Reference</text>
<text x="474.6" y="219.3" font-size="15.2" text-anchor="start" font-weight="bold" fill="#111" style="">f</text>
<g clip-path="url(#clipF)">
<polyline points="493.2,257.14 493.7,261.52 494.2,260.48 494.7,261.14 495.2,260.26 495.7,259.59 496.2,257.37 496.7,260.8 497.2,260.1 497.7,259.52 498.2,260.42 498.7,260.23 499.2,261.15 499.7,259.78 500.2,260.06 500.7,256.97 501.2,258.99 501.7,261.1 502.2,262.56 502.7,260.3 503.2,260.24 503.7,262.83 504.2,260.46 504.7,261.61 505.2,263.27 505.7,261.12 506.2,262.52 506.7,259.88 507.2,260.78 507.7,260.56 508.2,260.85 508.7,262.49 509.2,264.78 509.7,260.65 510.2,260 510.7,261.55 511.2,259.55 511.7,261.55 512.2,262.1 512.7,260.96 513.2,261.99 513.7,259.06 514.2,262 514.7,259.09 515.2,259.79 515.7,260.1 516.2,260.32 516.7,262.17 517.2,261.21 517.7,260.14 518.2,261.17 518.7,262.76 519.2,260.48 519.7,260.36 520.2,261.46 520.7,259.99 521.2,257.14 521.7,262.12 522.2,262.51 522.7,256.06 523.2,257.59 523.7,258.49 524.2,259.43 524.7,259.14 525.2,257.65 525.7,256.16 526.2,257.63 526.7,259.33 527.2,256.45 527.7,255.96 528.2,257.39 528.7,254.77 529.2,256.79 529.7,256.93 530.2,258.31 530.7,256.83 531.2,256.26 531.7,256.89 532.2,257.54 532.7,256.73 533.2,257.6 533.7,258.9 534.2,259.82 534.7,260.79 535.2,257.2 535.7,257.04 536.2,253.87 536.7,259.9 537.2,257.11 537.7,257.61 538.2,258.55 538.7,255.88 539.2,258.12 539.7,257.82 540.2,255.02 540.7,257.68 541.2,259.59 541.7,255.31 542.2,258.53 542.7,258.26 543.2,258.61 543.7,258.63 544.2,259.94 544.7,257.88 545.2,259.14 545.7,257.44 546.2,258.83 546.7,256.76 547.2,257.42 547.7,260.35 548.2,258.98 548.7,257.79 549.2,256.05 549.7,256.24 550.2,257.78 550.7,259.22 551.2,258.72 551.7,258.78 552.2,257.93 552.7,259.87 553.2,257.61 553.7,256.92 554.2,258.97 554.7,258.12 555.2,257.43 555.7,256.84 556.2,257.21 556.7,258.62 557.2,258.49 557.7,256.09 558.2,258.1 558.7,258.12 559.2,256.34 559.7,258.67 560.2,257.54 560.7,257.23 561.2,258.89 561.7,260.02 562.2,257.19 562.7,258.33 563.2,256.57 563.7,261.06 564.2,257.69 564.7,259.59 565.2,257.16 565.7,258.9 566.2,261.38 566.7,254.64 567.2,256.5 567.7,258.29 568.2,257.75 568.7,256.76 569.2,260.85 569.7,258.52 570.2,255.43 570.7,258.61 571.2,255.33 571.7,259.04 572.2,257.16 572.7,257.88 573.2,259.72 573.7,258.35 574.2,255.78 574.7,254.8 575.2,258.98 575.7,259.15 576.2,256.81 576.7,258.89 577.2,258.76 577.7,258.96 578.2,254.58 578.7,256.68 579.2,258.93 579.7,259.12 580.2,259.38 580.7,254.36 581.2,257.35 581.7,258.44 582.2,261.78 582.7,257.12 583.2,257.14 583.7,257.7 584.2,259.1 584.7,257.36 585.2,259.43 585.7,256.91 586.2,258.01 586.7,257.04 587.2,257.9 587.7,256.8 588.2,255.22 588.7,259.02 589.2,258.6 589.7,257.23 590.2,258.14 590.7,259.55 591.2,256.87 591.7,257.68 592.2,258.86 592.7,259.11 593.2,257.88 593.7,254.97 594.2,259.51 594.7,259.05 595.2,258.51 595.7,257.98 596.2,258.72 596.7,257.84 597.2,256.77 597.7,257 598.2,257.28 598.7,257.32 599.2,256.5 599.7,259.06 600.2,256.61 600.7,259.11 601.2,257.06 601.7,258.72 602.2,260.59 602.7,259.18 603.2,257.47 603.7,258.3 604.2,258.61 604.7,255.8 605.2,256.93 605.7,258.31 606.2,257.61 606.7,258.28 607.2,259.39 607.7,259.63 608.2,259.86 608.7,259.38 609.2,257.91 609.7,257.97 610.2,257.53 610.7,257.3 611.2,257.36 611.7,254.89 612.2,255.97 612.7,255.88 613.2,253.62 613.7,253.71 614.2,253.45 614.7,250.98 615.2,252 615.7,242.28 616.2,239.55 616.7,229.91 617.2,226.09 617.7,230.55 618.2,231.62 618.7,241.33 619.2,247.07 619.7,249.04 620.2,252.21 620.7,249.74 621.2,254.89 621.7,256.01 622.2,256.45 622.7,256.28 623.2,258.37 623.7,257.14 624.2,258.05 624.7,257.18 625.2,254.42 625.7,257.28 626.2,258.25 626.7,259.31 627.2,257.07 627.7,257.93 628.2,259.11 628.7,258.64 629.2,260.23 629.7,261.7 630.2,257.6 630.7,255.25 631.2,259.01 631.7,260.79 632.2,260.23 632.7,259.96 633.2,257.73 633.7,257.14 634.2,259.46 634.7,257.2 635.2,255.37 635.7,256.25 636.2,261.74 636.7,261.97 637.2,258.05 637.7,257.2 638.2,258.49 638.7,257.26 639.2,260.15 639.7,258.62 640.2,256.78 640.7,260.05 641.2,257.83 641.7,258.61 642.2,258.41 642.7,257.91 643.2,258.78 643.7,257.41 644.2,255.38 644.7,254.43 645.2,255.67 645.7,256.69 646.2,258.01 646.7,258.39 647.2,259.23 647.7,258.73 648.2,257.24 648.7,257.08 649.2,254.9 649.7,257.43 650.2,258.93 650.7,259.29 651.2,258.38 651.7,258.11 652.2,259.75 652.7,258.68 653.2,259.56 653.7,259.5 654.2,258.93 654.7,260.47 655.2,257.93 655.7,257.74 656.2,257.02 656.7,256.9 657.2,260.45 657.7,261.47 658.2,259.04 658.7,259.41 659.2,260.46 659.7,260.2 660.2,260.85 660.7,257.36 661.2,257.75 661.7,259.65 662.2,261.7 662.7,260.28 663.2,258.74 663.7,259.41 664.2,259.31 664.7,259.22 665.2,263.04 665.7,260.81 666.2,261.6 666.7,265.27 667.2,264.77 667.7,263.63 668.2,262.21 668.7,263.73 669.2,266.11 669.7,265.31 670.2,266.34 670.7,264.99 671.2,265.56 671.7,264.77 672.2,265.74 672.7,267.42 673.2,263.74 673.7,265.2 674.2,266.05 674.7,265.06" fill="none" stroke="#f5aa72" stroke-width="1.6" stroke-linejoin="round" stroke-linecap="round" />
<polyline points="493.2,298.03 493.7,299.6 494.2,301.77 494.7,300.11 495.2,299.32 495.7,296.31 496.2,301 496.7,299.13 497.2,298.59 497.7,296.84 498.2,298.1 498.7,296.78 499.2,298.29 499.7,299.2 500.2,298.72 500.7,299.01 501.2,297.35 501.7,300.49 502.2,297.95 502.7,295.68 503.2,297.7 503.7,297.24 504.2,296.77 504.7,297.68 505.2,298.84 505.7,296.84 506.2,298.03 506.7,300.65 507.2,300.04 507.7,298.65 508.2,298.8 508.7,298.46 509.2,298.5 509.7,299.69 510.2,298.67 510.7,294.95 511.2,297.81 511.7,297.05 512.2,299.21 512.7,297.69 513.2,298.5 513.7,301.71 514.2,297.4 514.7,296.37 515.2,295.67 515.7,293.98 516.2,294.37 516.7,297.79 517.2,296.88 517.7,294.76 518.2,294.86 518.7,297.99 519.2,296.43 519.7,296.67 520.2,297.7 520.7,299.39 521.2,300.54 521.7,299.32 522.2,297.65 522.7,297.31 523.2,299.63 523.7,299.46 524.2,296.71 524.7,297.27 525.2,297.06 525.7,296.61 526.2,295.62 526.7,294.12 527.2,294.98 527.7,293.57 528.2,297.46 528.7,297.17 529.2,294.43 529.7,297.82 530.2,297.72 530.7,293.44 531.2,298.28 531.7,297.69 532.2,299.49 532.7,294.86 533.2,296.64 533.7,296.85 534.2,296.59 534.7,296.53 535.2,297.9 535.7,294.35 536.2,294.07 536.7,293.84 537.2,295.12 537.7,295.37 538.2,296.96 538.7,297.19 539.2,296.95 539.7,295.9 540.2,296.13 540.7,298.37 541.2,298.61 541.7,297.74 542.2,297 542.7,299.79 543.2,297.17 543.7,298.63 544.2,299.78 544.7,297.94 545.2,299.33 545.7,296.75 546.2,299.56 546.7,298.98 547.2,296.24 547.7,299.22 548.2,297.53 548.7,300.59 549.2,298.31 549.7,298.73 550.2,299.59 550.7,298.91 551.2,299.76 551.7,298.78 552.2,300.53 552.7,299.95 553.2,300.23 553.7,295.86 554.2,301.01 554.7,300.4 555.2,297.58 555.7,299.94 556.2,301.04 556.7,302.24 557.2,299.26 557.7,302.72 558.2,300.87 558.7,304.42 559.2,301.31 559.7,301.98 560.2,300.55 560.7,299.16 561.2,302.26 561.7,302.61 562.2,303.65 562.7,302.83 563.2,300.49 563.7,298.35 564.2,299.45 564.7,299.6 565.2,299.39 565.7,301.43 566.2,301.41 566.7,300.45 567.2,300.87 567.7,300.41 568.2,300.8 568.7,301.62 569.2,302.03 569.7,299.53 570.2,297.7 570.7,301.71 571.2,300.43 571.7,301.6 572.2,297.56 572.7,298.66 573.2,299.33 573.7,297.14 574.2,298.01 574.7,299.98 575.2,300.82 575.7,301.68 576.2,298.03 576.7,296.39 577.2,298.9 577.7,299.95 578.2,298.95 578.7,296.4 579.2,298.98 579.7,299.45 580.2,299.11 580.7,297.4 581.2,298.21 581.7,299.06 582.2,297.14 582.7,294.76 583.2,297.56 583.7,298.33 584.2,297.75 584.7,298.96 585.2,296.96 585.7,297.34 586.2,297.09 586.7,298.39 587.2,300.23 587.7,297.83 588.2,300.88 588.7,300.74 589.2,299.63 589.7,299.14 590.2,300.9 590.7,298.33 591.2,297.98 591.7,296.51 592.2,298.61 592.7,300.41 593.2,299.59 593.7,299.31 594.2,298.36 594.7,298.78 595.2,296.49 595.7,299.84 596.2,298.33 596.7,297.01 597.2,297.32 597.7,297.3 598.2,299.87 598.7,300.71 599.2,297.21 599.7,299.99 600.2,300.48 600.7,298.34 601.2,296.53 601.7,297.29 602.2,297.6 602.7,299.14 603.2,298.37 603.7,295.67 604.2,298.55 604.7,296.42 605.2,299.69 605.7,297.11 606.2,297.36 606.7,297.14 607.2,297.54 607.7,300.39 608.2,300.26 608.7,299.81 609.2,299.26 609.7,296.27 610.2,297.18 610.7,297.26 611.2,296.56 611.7,298.6 612.2,297.02 612.7,296.63 613.2,295.62 613.7,293.39 614.2,296.45 614.7,297.58 615.2,295.34 615.7,292.25 616.2,287.86 616.7,289.85 617.2,289.92 617.7,286.53 618.2,285.66 618.7,287.43 619.2,289.34 619.7,289.26 620.2,292.97 620.7,294.37 621.2,291.97 621.7,293.87 622.2,293.26 622.7,295.61 623.2,297.56 623.7,295.84 624.2,294.08 624.7,298.86 625.2,298.47 625.7,300.08 626.2,296.18 626.7,299.05 627.2,301.17 627.7,301.51 628.2,298.21 628.7,298.29 629.2,297.66 629.7,299.29 630.2,299.67 630.7,298.3 631.2,295.83 631.7,298.52 632.2,297.21 632.7,298.62 633.2,298.34 633.7,300.35 634.2,300.01 634.7,297.52 635.2,298.24 635.7,300.53 636.2,297.49 636.7,298.35 637.2,299.67 637.7,300.04 638.2,298.99 638.7,295.98 639.2,295.47 639.7,297.66 640.2,298.32 640.7,301.73 641.2,297.24 641.7,299.38 642.2,299.26 642.7,295.53 643.2,296.08 643.7,297.7 644.2,297.02 644.7,297.41 645.2,298.45 645.7,296.72 646.2,298.32 646.7,296.97 647.2,296.85 647.7,298.48 648.2,297.13 648.7,298.18 649.2,300.39 649.7,298.45 650.2,297.82 650.7,299.04 651.2,297.62 651.7,299.55 652.2,296.36 652.7,298.62 653.2,297.37 653.7,296.69 654.2,300.48 654.7,297.26 655.2,300.6 655.7,299.61 656.2,300.63 656.7,297.16 657.2,299.78 657.7,300.71 658.2,298.52 658.7,298.08 659.2,301.93 659.7,299.25 660.2,297.82 660.7,297.23 661.2,298.76 661.7,298.9 662.2,298.71 662.7,301.03 663.2,298.4 663.7,299.1 664.2,300.75 664.7,297.35 665.2,299.78 665.7,301.49 666.2,297 666.7,296.5 667.2,296.5 667.7,295.28 668.2,298.54 668.7,295.69 669.2,298.71 669.7,300.77 670.2,296.53 670.7,297.66 671.2,295.46 671.7,299.13 672.2,297.56 672.7,297.97 673.2,298.54 673.7,299.4 674.2,298.22 674.7,298.54" fill="none" stroke="#ee8c82" stroke-width="1.6" stroke-linejoin="round" stroke-linecap="round" />
<polyline points="493.2,334.63 493.7,335.42 494.2,333.43 494.7,334.9 495.2,331.89 495.7,333.48 496.2,337.52 496.7,335.28 497.2,332.57 497.7,334.36 498.2,332.66 498.7,331.16 499.2,332.28 499.7,334.83 500.2,334.78 500.7,334.01 501.2,332.53 501.7,332.01 502.2,335.81 502.7,334.82 503.2,332.74 503.7,330.49 504.2,331.26 504.7,337.6 505.2,333.11 505.7,333.96 506.2,334.63 506.7,334.22 507.2,333.99 507.7,332.23 508.2,332.45 508.7,336.92 509.2,333.95 509.7,335.97 510.2,332.35 510.7,333.95 511.2,335.17 511.7,336.71 512.2,333.6 512.7,335.78 513.2,335.92 513.7,334.19 514.2,335.83 514.7,334 515.2,333.83 515.7,335.07 516.2,331.04 516.7,334.43 517.2,333.7 517.7,332.84 518.2,334.34 518.7,336.56 519.2,335.14 519.7,337.53 520.2,334.13 520.7,333.21 521.2,337.6 521.7,336.64 522.2,337.32 522.7,334.62 523.2,336.69 523.7,336.23 524.2,336.76 524.7,335.87 525.2,337.58 525.7,334.96 526.2,333.93 526.7,332.9 527.2,336.92 527.7,334.68 528.2,333.75 528.7,333.73 529.2,334.51 529.7,333.35 530.2,334.68 530.7,334.41 531.2,334.48 531.7,333.84 532.2,335.31 532.7,334.8 533.2,335.62 533.7,336 534.2,336.23 534.7,332.22 535.2,334.07 535.7,334.02 536.2,336.52 536.7,333.26 537.2,333.99 537.7,334.81 538.2,334.9 538.7,337.05 539.2,335.18 539.7,337.06 540.2,333.55 540.7,332.29 541.2,336.89 541.7,336.55 542.2,336.57 542.7,335.99 543.2,336.45 543.7,333.83 544.2,336.76 544.7,334.98 545.2,337.05 545.7,336.03 546.2,332.53 546.7,332.93 547.2,336.87 547.7,335.64 548.2,334.97 548.7,335.86 549.2,334.97 549.7,334.6 550.2,335.56 550.7,335.82 551.2,338.07 551.7,336.17 552.2,338.72 552.7,339.11 553.2,339.05 553.7,337.99 554.2,336.29 554.7,335.96 555.2,335.44 555.7,334.4 556.2,335.25 556.7,334.51 557.2,338 557.7,336.94 558.2,335.15 558.7,332.45 559.2,334.88 559.7,334.79 560.2,333.7 560.7,333.4 561.2,331.56 561.7,335.7 562.2,335.52 562.7,339.71 563.2,336.37 563.7,335.52 564.2,337.89 564.7,336.27 565.2,336 565.7,335.09 566.2,334.53 566.7,337.78 567.2,337.64 567.7,338.75 568.2,335.67 568.7,335.66 569.2,334.2 569.7,336.87 570.2,333.62 570.7,336.11 571.2,337.46 571.7,338.23 572.2,334.62 572.7,337.15 573.2,334.77 573.7,334.22 574.2,333.21 574.7,336.97 575.2,338.51 575.7,335.23 576.2,334.31 576.7,334.8 577.2,339.45 577.7,337.98 578.2,335.21 578.7,332.65 579.2,333.93 579.7,337.17 580.2,338.9 580.7,335.83 581.2,334.54 581.7,334.57 582.2,332.38 582.7,336.41 583.2,334.02 583.7,336.99 584.2,333.15 584.7,333.08 585.2,335.56 585.7,334.37 586.2,336.6 586.7,335.81 587.2,333.76 587.7,336.23 588.2,337.07 588.7,332.83 589.2,337.97 589.7,336.87 590.2,337.07 590.7,332.92 591.2,333.91 591.7,334.7 592.2,337.14 592.7,333.57 593.2,333.78 593.7,331.99 594.2,334.49 594.7,335.93 595.2,332.97 595.7,334.13 596.2,336.12 596.7,338.24 597.2,337.19 597.7,335.43 598.2,333.68 598.7,333.72 599.2,334.16 599.7,335.55 600.2,335.51 600.7,338.25 601.2,336.59 601.7,334.08 602.2,337.76 602.7,337.53 603.2,336.13 603.7,334.52 604.2,332.36 604.7,333.27 605.2,336.54 605.7,334.44 606.2,333.18 606.7,335.35 607.2,335.84 607.7,336.51 608.2,336.71 608.7,337.94 609.2,334.58 609.7,336.8 610.2,334.09 610.7,336.22 611.2,335.81 611.7,335.81 612.2,336.96 612.7,335.59 613.2,337.11 613.7,337.02 614.2,335.8 614.7,334.42 615.2,333.83 615.7,334.06 616.2,334.6 616.7,334.98 617.2,339.85 617.7,337.06 618.2,336.7 618.7,334 619.2,333.69 619.7,334.24 620.2,335.15 620.7,333.36 621.2,337.22 621.7,334.5 622.2,336.57 622.7,331.51 623.2,334.21 623.7,335.2 624.2,335.25 624.7,335.9 625.2,335.51 625.7,335.24 626.2,331.89 626.7,333.1 627.2,330.73 627.7,335 628.2,335.34 628.7,334.6 629.2,333.45 629.7,333.6 630.2,337.51 630.7,338.11 631.2,335.36 631.7,336.97 632.2,332.68 632.7,331.26 633.2,333.29 633.7,333.06 634.2,333.51 634.7,334.79 635.2,339.57 635.7,334.62 636.2,334.75 636.7,335.13 637.2,334.69 637.7,336.13 638.2,337.75 638.7,333.23 639.2,334.56 639.7,334.12 640.2,335.01 640.7,332.15 641.2,331.2 641.7,330.09 642.2,334.4 642.7,334.7 643.2,334.56 643.7,330.6 644.2,332.98 644.7,332.82 645.2,331.71 645.7,332.27 646.2,334.94 646.7,335.2 647.2,334.33 647.7,334.99 648.2,333.31 648.7,334.04 649.2,334.11 649.7,334.93 650.2,334.07 650.7,333.76 651.2,333.69 651.7,332.84 652.2,337.26 652.7,335.37 653.2,334.84 653.7,337.7 654.2,336.83 654.7,331.9 655.2,334.5 655.7,335.24 656.2,337.05 656.7,336.48 657.2,335.48 657.7,332.16 658.2,331.97 658.7,333.75 659.2,334.47 659.7,332.16 660.2,332.72 660.7,332.79 661.2,333.54 661.7,334.13 662.2,333.25 662.7,331.55 663.2,335.18 663.7,336.49 664.2,334.06 664.7,335.43 665.2,334.84 665.7,335.13 666.2,334.99 666.7,333.06 667.2,334.9 667.7,336.07 668.2,333.36 668.7,337.51 669.2,338.65 669.7,338.56 670.2,338.92 670.7,337.1 671.2,335.11 671.7,334.4 672.2,334.01 672.7,335.5 673.2,335.64 673.7,336.86 674.2,332.85 674.7,339.03" fill="none" stroke="#0e4d66" stroke-width="1.6" stroke-linejoin="round" stroke-linecap="round" />
</g>
<rect x="611.3" y="220.9" width="12" height="138.8" fill="#f6eeb0" fill-opacity="0.38"/>
<rect x="492.7" y="220.9" width="182.40000000000003" height="138.79999999999998" fill="none" stroke="#1a1a1a" stroke-width="1.1"/>
<line x1="492.7" y1="359.7" x2="492.7" y2="363.3" stroke="#1a1a1a" stroke-width="0.9" />
<text transform="translate(492.7 373.2) scale(0.95 1)" x="0" y="0" font-size="9.6" text-anchor="middle" fill="#1a1a1a">7.0</text>
<line x1="515.5" y1="359.7" x2="515.5" y2="361.7" stroke="#1a1a1a" stroke-width="0.9" />
<line x1="538.3" y1="359.7" x2="538.3" y2="363.3" stroke="#1a1a1a" stroke-width="0.9" />
<text transform="translate(538.3 373.2) scale(0.95 1)" x="0" y="0" font-size="9.6" text-anchor="middle" fill="#1a1a1a">6.5</text>
<line x1="561.1" y1="359.7" x2="561.1" y2="361.7" stroke="#1a1a1a" stroke-width="0.9" />
<line x1="583.9" y1="359.7" x2="583.9" y2="363.3" stroke="#1a1a1a" stroke-width="0.9" />
<text transform="translate(583.9 373.2) scale(0.95 1)" x="0" y="0" font-size="9.6" text-anchor="middle" fill="#1a1a1a">6.0</text>
<line x1="606.7" y1="359.7" x2="606.7" y2="361.7" stroke="#1a1a1a" stroke-width="0.9" />
<line x1="629.5" y1="359.7" x2="629.5" y2="363.3" stroke="#1a1a1a" stroke-width="0.9" />
<text transform="translate(629.5 373.2) scale(0.95 1)" x="0" y="0" font-size="9.6" text-anchor="middle" fill="#1a1a1a">5.5</text>
<line x1="652.3" y1="359.7" x2="652.3" y2="361.7" stroke="#1a1a1a" stroke-width="0.9" />
<line x1="675.1" y1="359.7" x2="675.1" y2="363.3" stroke="#1a1a1a" stroke-width="0.9" />
<text transform="translate(675.1 373.2) scale(0.95 1)" x="0" y="0" font-size="9.6" text-anchor="middle" fill="#1a1a1a">5.0</text>
<text x="581.4" y="391" font-size="11" text-anchor="middle" font-weight="normal" fill="#1a1a1a" style="">Chemical Shift (ppm)</text>
<text x="483.8" y="289" font-size="11.0" text-anchor="middle" font-weight="normal" fill="#1a1a1a" transform="rotate(-90 483.8 289)" style="">Intensity (a.u.)</text>
<text x="501.2" y="237.4" font-size="9.5" text-anchor="start" font-weight="normal" fill="#222" style="">Reaction Time</text>
<line x1="508.7" y1="248" x2="508.7" y2="334" stroke="#4a4a4a" stroke-width="0.9" />
<polygon points="508.7,243.6 506.4,248.8 511.0,248.8" fill="#222"/>
<text x="672.6" y="250.6" font-size="9.4" text-anchor="end" font-weight="normal" fill="#222" style="">t = 12 h</text>
<text x="672.6" y="288.4" font-size="9.4" text-anchor="end" font-weight="normal" fill="#222" style="">t = 5 h</text>
<text x="672.6" y="324.2" font-size="9.4" text-anchor="end" font-weight="normal" fill="#222" style="">t = 0 h</text>
<text x="617.4" y="349" font-size="7.8" text-anchor="middle" font-weight="normal" fill="#222" style="">Urea</text>
</svg></body></html>
